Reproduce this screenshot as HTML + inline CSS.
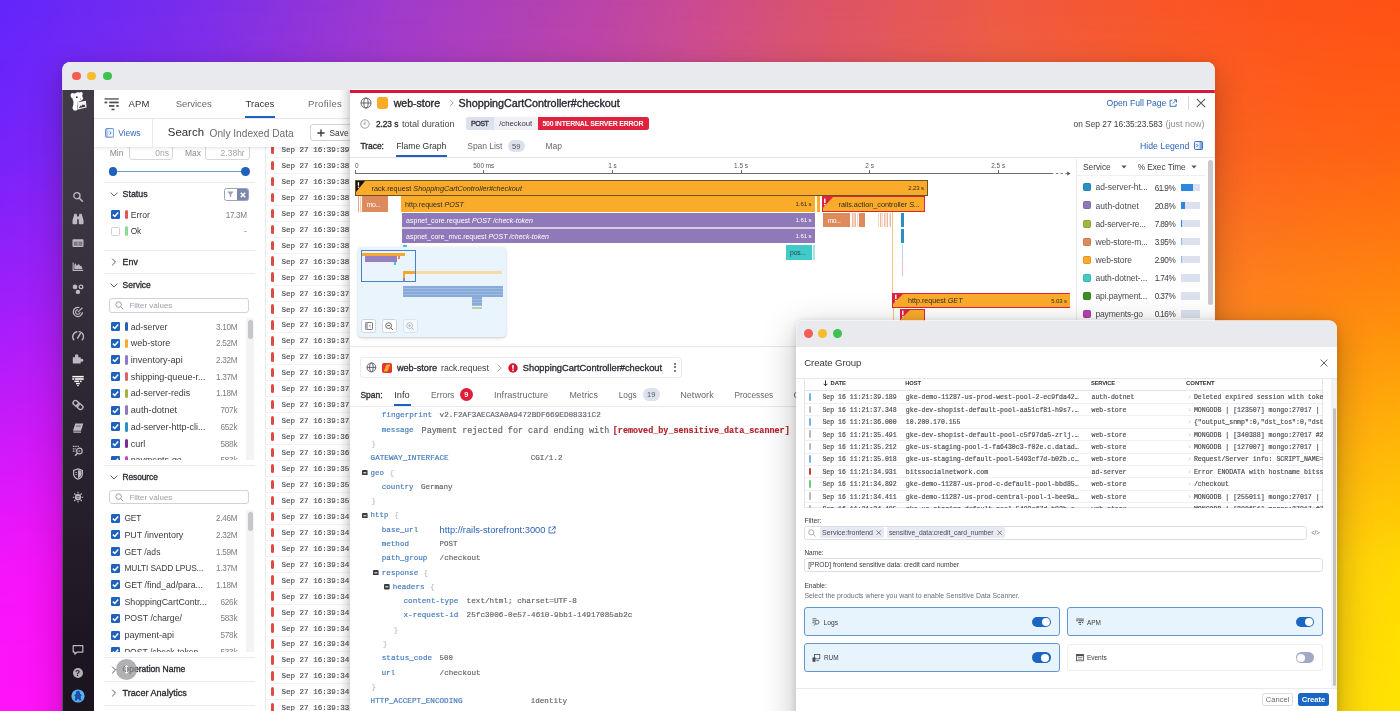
<!DOCTYPE html><html lang="en"><head><meta charset="utf-8"><title>APM Traces - Sensitive Data Scanner</title><style>

html,body{margin:0;padding:0}
body{width:1400px;height:711px;overflow:hidden;position:relative;font-family:"Liberation Sans",sans-serif;background:#c04a90}
div,svg{position:absolute}
.t{white-space:pre;overflow:visible}
.m{font-family:"Liberation Mono",monospace;-webkit-text-stroke:.16px}
.layer{left:0;top:0;width:1400px;height:711px}
#bg1{background:linear-gradient(90deg,#6126fb 0,#7a2eeb 200px,#a03bcb 400px,#bb44a8 600px,#cc4b90 700px,#d9526f 800px,#ee5a44 1000px,#f8562a 1150px,#fe5219 1300px,#ff5015 1400px)}
#bg2{background:linear-gradient(90deg,#ff14fa 0,#ff12f6 50px,#ffe300 1400px);
-webkit-mask-image:linear-gradient(180deg,rgba(0,0,0,0) 0,rgba(0,0,0,.13) 150px,rgba(0,0,0,.39) 300px,rgba(0,0,0,.71) 450px,rgba(0,0,0,.93) 565px,#000 690px);
mask-image:linear-gradient(180deg,rgba(0,0,0,0) 0,rgba(0,0,0,.13) 150px,rgba(0,0,0,.39) 300px,rgba(0,0,0,.71) 450px,rgba(0,0,0,.93) 565px,#000 690px)}
#sh1{left:62px;top:62px;width:1153px;height:700px;border-radius:8px;box-shadow:0 12px 34px rgba(0,0,0,.24),0 1px 6px rgba(0,0,0,.10)}
#w1{clip-path:inset(62px 185.2px 0 62.3px round 8px 8px 0 0)}
#sh2{left:796.2px;top:320.4px;width:540.8px;height:460px;border-radius:8px;box-shadow:0 10px 34px rgba(0,0,0,.27),0 1px 7px rgba(0,0,0,.13)}
#w2{clip-path:inset(320.4px 63px 0 796.2px round 8px 8px 0 0)}

</style></head><body>
<div id="bg1" class="layer"></div>
<div id="bg2" class="layer"></div>
<div id="sh1"></div>
<div id="w1" class="layer">
<div style="left:62px;top:62px;width:1153px;height:660px;background:#fff;"></div>
<div style="left:62px;top:62px;width:1153px;height:27.6px;background:#e9eaee;"></div>
<div style="left:71.95px;top:71.55px;width:8.9px;height:8.9px;background:#f55e53;border-radius:50%;"></div>
<div style="left:87.45px;top:71.55px;width:8.9px;height:8.9px;background:#f6bd2c;border-radius:50%;"></div>
<div style="left:103.15px;top:71.55px;width:8.9px;height:8.9px;background:#3ec152;border-radius:50%;"></div>
<div style="left:62px;top:89.6px;width:31.8px;height:630px;background:linear-gradient(180deg,#403b47 0%,#3b3642 18%,#302a36 42%,#261f2c 65%,#1d1622 88%,#1b141f 100%);"></div>
<svg style="left:69.6px;top:91.9px;" width="17.5" height="19.5" viewBox="0 0 17.5 19.5"><path d="M.6 3.2C.6 1.4 2.6 .4 4 1.6L5.4 1.2C6.5 .2 8.5 0 9.6 .6L11.6 0C12.8 .4 13 2.2 12.2 3.4L12.6 5.2L13.3 7L11.4 8.6L9 9.4L7.2 10.2L7 13.4L7.6 17.2C7.4 18.6 5 19 3.6 18.2L2.4 16L3.4 12.4V9L2.2 6.2C1 5.6 .6 4.4 .6 3.2Z" fill="#fff"/><path d="M7.1 10.3L15.9 8.8L16.6 15.4L7.8 17.5Z" fill="#f1eff4"/><path d="M8.9 16.1L10.4 13.6L11.4 14.3L12.8 12.3L13.7 13.2L14.6 12.4L15.3 14.7Z" fill="#3b3642"/><circle cx="6.8" cy="5.2" r=".85" fill="#2e2935"/><circle cx="10.6" cy="7" r=".6" fill="#6d6874"/><path d="M3.2 5.4C4 4.6 4.4 3.4 4.2 2.4" fill="none" stroke="#cfccd4" stroke-width=".6"/></svg>
<svg style="left:71.5px;top:190.5px;" width="12" height="12" viewBox="0 0 12 12"><circle cx="4.9" cy="4.7" r="3.1" fill="none" stroke="#bdb9c3" stroke-width="1.3"/><path d="M7.2 7L10.4 10.2" stroke="#bdb9c3" stroke-width="1.6" stroke-linecap="round"/></svg>
<svg style="left:71.5px;top:213.2px;" width="12" height="12" viewBox="0 0 12 12"><path d="M2.4 .8H4.6L5.2 3.4H6.8L7.4 .8H9.6L11.5 7.2V10.2C11.5 10.9 11 11.3 10.4 11.3H7.8C7.2 11.3 6.8 10.9 6.8 10.2V6.2H5.2V10.2C5.2 10.9 4.8 11.3 4.2 11.3H1.6C1 11.3 .5 10.9 .5 10.2V7.2Z" fill="#bdb9c3"/></svg>
<svg style="left:71.5px;top:236.8px;" width="12" height="12" viewBox="0 0 12 12"><rect x=".5" y="2.2" width="11" height="7.8" rx=".9" fill="#bdb9c3"/><rect x="1.7" y="4.5" width="8.6" height="4.3" fill="#7d7884"/><rect x="5.7" y="4.5" width=".7" height="4.3" fill="#bdb9c3"/></svg>
<svg style="left:71.5px;top:259.7px;" width="12" height="12" viewBox="0 0 12 12"><path d="M.6 2.6H1.7V10H11.2V11H.6Z" fill="#bdb9c3"/><path d="M2.3 9.3V5.2L3.4 3L4.6 5.8L5.6 4.9L6.9 3.9L8.3 6.3L9.2 5.6L10.6 9.3Z" fill="#bdb9c3"/></svg>
<svg style="left:71.5px;top:282.9px;" width="12" height="12" viewBox="0 0 12 12"><circle cx="3" cy="3.9" r="2.3" fill="#bdb9c3"/><circle cx="9" cy="3.9" r="1.8" fill="none" stroke="#bdb9c3" stroke-width="1.3"/><circle cx="5.9" cy="8.9" r="2.2" fill="#bdb9c3"/></svg>
<svg style="left:71.5px;top:305.9px;" width="12" height="12" viewBox="0 0 12 12"><path d="M10.5 6.3A4.6 4.6 0 1 1 7.4 1.6" fill="none" stroke="#bdb9c3" stroke-width="1.3"/><path d="M8.2 6.2A2.3 2.3 0 1 1 6 3.7" fill="none" stroke="#bdb9c3" stroke-width="1.1"/><path d="M5.9 6.1L10.4 1.7" stroke="#bdb9c3" stroke-width="1.2"/></svg>
<svg style="left:71.5px;top:329.5px;" width="12" height="12" viewBox="0 0 12 12"><path d="M1.8 9.8A5 5 0 0 1 4.8 1.8M7.2 1.6A5 5 0 0 1 10.3 9.8" fill="none" stroke="#bdb9c3" stroke-width="1.4" stroke-linecap="round"/><path d="M5.6 8.2L8.3 3.6" stroke="#bdb9c3" stroke-width="1.5" stroke-linecap="round"/></svg>
<svg style="left:71.5px;top:352.8px;" width="12" height="12" viewBox="0 0 12 12"><path d="M.8 4.2H3.2C2.5 2.5 3.5 1.3 4.7 1.3C5.9 1.3 6.9 2.5 6.2 4.2H8.7V6C10.2 5.3 11.4 6.1 11.4 7.3C11.4 8.5 10.2 9.3 8.7 8.6V10.6H.8Z" fill="#bdb9c3"/></svg>
<svg style="left:71.5px;top:375px;" width="12" height="12" viewBox="0 0 12 12"><g fill="#fff"><rect x=".3" y=".9" width="11.4" height="1.5"/><rect x=".3" y="3.2" width="2" height="1.6"/><rect x="3.1" y="3.2" width="8.6" height="1.6"/><rect x="2.4" y="5.6" width="4.6" height="1.5"/><rect x="7.8" y="5.6" width="1.8" height="1.5"/><rect x="4" y="7.9" width="3.8" height="1.4"/><rect x="5.2" y="10" width="1.4" height="1.2"/></g></svg>
<svg style="left:71.5px;top:398.7px;" width="12" height="12" viewBox="0 0 12 12"><g fill="none" stroke="#bdb9c3" stroke-width="1.4" transform="rotate(40 6 6)"><rect x=".3" y="3.7" width="6.4" height="4.6" rx="2.3"/><rect x="5.3" y="3.7" width="6.4" height="4.6" rx="2.3"/></g></svg>
<svg style="left:71.5px;top:421.7px;" width="12" height="12" viewBox="0 0 12 12"><path d="M3.3 1.5H11.3L9 8.8H1ZM1 9.5H9V10.7H1.6Z" fill="#bdb9c3"/><path d="M4.6 3.2H9L8.4 5H4Z" fill="#8a8590"/></svg>
<svg style="left:71.5px;top:444.8px;" width="12" height="12" viewBox="0 0 12 12"><path d="M.8 1.4H6.8M.8 3.8H4.2M.8 6.2H3.4" stroke="#bdb9c3" stroke-width="1.2" stroke-dasharray="1.2 .5"/><circle cx="7.4" cy="6" r="2.8" fill="none" stroke="#bdb9c3" stroke-width="1.2"/><path d="M5.4 8.2L3 10.8" stroke="#bdb9c3" stroke-width="1.4"/><path d="M6.6 4.9L8.7 6L6.6 7.1Z" fill="#bdb9c3"/></svg>
<svg style="left:71.5px;top:468.1px;" width="12" height="12" viewBox="0 0 12 12"><path d="M6 .9L10.4 2.4V6C10.4 8.5 8.5 10.3 6 11.2C3.5 10.3 1.6 8.5 1.6 6V2.4Z" fill="none" stroke="#bdb9c3" stroke-width="1.2"/><path d="M6 2V10.2C7.8 9.4 9.4 8 9.4 6V3.1Z" fill="#bdb9c3"/><path d="M3.4 4.6H5M3.4 6.6H5" stroke="#bdb9c3" stroke-width=".9"/></svg>
<svg style="left:71.5px;top:491.4px;" width="12" height="12" viewBox="0 0 12 12"><circle cx="6" cy="6.2" r="3.1" fill="#bdb9c3"/><path d="M6 .8V2.6M6 9.8V11.6M.8 6.2H2.4M9.6 6.2H11.2M2.2 2.4L3.6 3.8M9.8 2.4L8.4 3.8M2.2 10L3.6 8.6M9.8 10L8.4 8.6" stroke="#bdb9c3" stroke-width="1.1"/><path d="M4.4 5.6H7.6M4.8 7.2H7.2" stroke="#4a4450" stroke-width=".8"/></svg>
<svg style="left:71.5px;top:644px;" width="12" height="12" viewBox="0 0 12 12"><path d="M1.2 1.6H10.8V8H5.2L2.8 10.2V8H1.2Z" fill="none" stroke="#b9b5bf" stroke-width="1.25" stroke-linejoin="round"/></svg>
<svg style="left:71.5px;top:667.2px;" width="12" height="12" viewBox="0 0 12 12"><circle cx="6" cy="6" r="5" fill="#b2aeb8"/></svg>
<div class="t" style="top:666px;height:14px;line-height:14px;font-size:8.5px;color:#241d29;font-weight:700;left:-22.5px;width:200px;text-align:center;">?</div>
<svg style="left:70.5px;top:689px;" width="14" height="14" viewBox="0 0 14 14"><circle cx="7" cy="7" r="6.6" fill="#5bb0f0"/><path d="M7 1.8C8.4 1.8 9.2 3 9 4.4L10.8 6.4L9.6 7.6L10.4 11.6H8.2L7 9.6L5.8 11.6H3.6L4.4 7.6L3.2 6.4L5 4.4C4.8 3 5.6 1.8 7 1.8Z" fill="#1c4fa8"/></svg>
<div style="left:94px;top:117.8px;width:260px;height:1px;background:#ebecf0;"></div>
<svg style="left:103.5px;top:96.5px;" width="16" height="14" viewBox="0 0 16 14"><g fill="#4a4a50"><rect x=".5" y="1.3" width="14.2" height="1.3"/><rect x=".5" y="4.6" width="2.8" height="1.7"/><rect x="5.3" y="4.6" width="9.4" height="1.7"/><rect x="5" y="8.1" width="5.4" height="1.7"/><rect x="12.3" y="8.1" width="2.4" height="1.7"/><rect x="7.5" y="11.7" width="3" height="1.5"/></g></svg>
<div class="t" style="top:96px;height:15px;line-height:15px;font-size:9.5px;color:#333;letter-spacing:0.1px;left:128.6px;">APM</div>
<div class="t" style="top:96px;height:15px;line-height:15px;font-size:9.5px;color:#6a6a70;letter-spacing:-0.06px;left:175.7px;">Services</div>
<div class="t" style="top:96px;height:15px;line-height:15px;font-size:9.5px;color:#333;left:245.6px;">Traces</div>
<div class="t" style="top:96px;height:15px;line-height:15px;font-size:9.5px;color:#6a6a70;letter-spacing:0.3px;left:308px;">Profiles</div>
<div style="left:244.7px;top:115.7px;width:30.4px;height:2.2px;background:#1f62bd;"></div>
<div style="left:94px;top:118.8px;width:260px;height:28.4px;background:#fff;box-shadow:0 1px 3px rgba(0,0,0,.12);z-index:2;"></div>
<div style="left:152.4px;top:118.8px;width:1px;height:28.4px;background:#ebecf0;z-index:3;"></div>
<svg style="left:104.8px;top:127.8px;z-index:3;" width="9.4" height="9.8" viewBox="0 0 9.4 9.8"><rect x=".6" y=".6" width="8.2" height="8.6" rx="1" fill="#f0f5fc" stroke="#4a80cc" stroke-width=".9"/><rect x=".6" y=".6" width="2.6" height="8.6" fill="#3b76c9" opacity=".3"/><path d="M4.6 3.4 L6.2 4.9 L4.6 6.4" fill="none" stroke="#3b76c9" stroke-width=".9"/></svg>
<div class="t" style="top:126px;height:15px;line-height:15px;font-size:8.42px;color:#2f68bb;left:118.3px;z-index:3;">Views</div>
<div class="t" style="top:122px;height:20px;line-height:20px;font-size:11.42px;color:#2e2e33;letter-spacing:0.01px;left:167.8px;z-index:3;">Search</div>
<div class="t" style="top:125px;height:17px;line-height:17px;font-size:10.14px;color:#6a6a70;letter-spacing:0.01px;left:209.6px;z-index:3;">Only Indexed Data</div>
<div style="left:309.6px;top:123.6px;width:60px;height:17.6px;background:#fff;border:1px solid #d2d4da;border-radius:3px;box-sizing:border-box;z-index:3;"></div>
<svg style="left:316.5px;top:128.6px;z-index:3;" width="8" height="8" viewBox="0 0 8 8"><path d="M4 .4V7.6M.4 4H7.6" stroke="#3a3a40" stroke-width="1.4"/></svg>
<div class="t" style="top:126px;height:15px;line-height:15px;font-size:8.33px;color:#333;letter-spacing:0.01px;left:329.5px;z-index:3;">Save</div>
<div class="t" style="top:146px;height:14px;line-height:14px;font-size:8.62px;color:#8a8a90;letter-spacing:0.01px;left:109.7px;">Min</div>
<div style="left:128.6px;top:142px;width:44.5px;height:18.2px;background:#fff;border:1px solid #d5d7de;border-radius:3px;box-sizing:border-box;"></div>
<div class="t" style="top:146px;height:14px;line-height:14px;font-size:8.5px;color:#a4a4aa;right:1231.1px;text-align:right;">0ns</div>
<div class="t" style="top:146px;height:14px;line-height:14px;font-size:8.47px;color:#8a8a90;left:185px;">Max</div>
<div style="left:204.6px;top:142px;width:45px;height:18.2px;background:#fff;border:1px solid #d5d7de;border-radius:3px;box-sizing:border-box;"></div>
<div class="t" style="top:146px;height:14px;line-height:14px;font-size:8.5px;color:#a4a4aa;right:1155.3px;text-align:right;">2.38hr</div>
<div style="left:113px;top:171.15px;width:132.6px;height:1.3px;background:#6f97cf;"></div>
<div style="left:108.7px;top:167.4px;width:8.8px;height:8.8px;background:#1f62bd;border-radius:50%;"></div>
<div style="left:241.2px;top:167.4px;width:8.8px;height:8.8px;background:#1f62bd;border-radius:50%;"></div>
<div style="left:104.4px;top:182px;width:150.2px;height:1px;background:#e9eaee;"></div>
<svg style="left:110.2px;top:191.1px;" width="8" height="8" viewBox="0 0 8 8"><path d="M.7 1.6 L4 4.9 L7.3 1.6" fill="none" stroke="#55555c" stroke-width="1"/></svg>
<div class="t" style="top:187px;height:15px;line-height:15px;font-size:8.82px;color:#2a2a30;-webkit-text-stroke:0.32px;left:122.6px;">Status</div>
<div style="left:224.4px;top:188.3px;width:25px;height:12.4px;background:#fff;border:1px solid #9aa3be;border-radius:2.5px;box-sizing:border-box;overflow:hidden;"><div style="left:11.5px;top:-1px;width:13px;height:13px;background:#7c88a9"></div>
</div><svg style="left:227.4px;top:191.4px;" width="7" height="7" viewBox="0 0 7 7"><path d="M.4 .6H6.6L4.2 3.4V6.2L2.8 5.4V3.4Z" fill="#9a9eae"/></svg>
<svg style="left:239.5px;top:191.6px;" width="6" height="6" viewBox="0 0 6 6"><path d="M.8 .8L5.2 5.2M5.2 .8L.8 5.2" stroke="#fff" stroke-width="1.5"/></svg>
<svg style="left:111.3px;top:210.1px;" width="9" height="9" viewBox="0 0 9 9"><rect width="9" height="9" rx="1.2" fill="#1f62bd"/><path d="M1.9 4.6 L3.8 6.5 L7.2 2.6" fill="none" stroke="#fff" stroke-width="1.5"/></svg>
<div style="left:125px;top:209.9px;width:3px;height:9.4px;background:#e0584f;border-radius:1.5px;"></div>
<div class="t" style="top:208px;height:15px;line-height:15px;font-size:8.69px;color:#3a3a40;left:130.7px;">Error</div>
<div class="t" style="top:209px;height:13px;line-height:13px;font-size:8.2px;color:#7d7d84;letter-spacing:-0.32px;right:1153.2px;text-align:right;">17.3M</div>
<div style="left:111.3px;top:226.6px;width:9px;height:9px;background:#fff;border:1px solid #cfd1d8;border-radius:1.5px;box-sizing:border-box;"></div>
<div style="left:125px;top:226.4px;width:3px;height:9.4px;background:#8bdb93;border-radius:1.5px;"></div>
<div class="t" style="top:224px;height:15px;line-height:15px;font-size:8.35px;color:#3a3a40;letter-spacing:-0.27px;left:130.7px;">Ok</div>
<div class="t" style="top:225px;height:13px;line-height:13px;font-size:8.2px;color:#7d7d84;right:1153.2px;text-align:right;">-</div>
<div style="left:104.4px;top:249.7px;width:150.2px;height:1px;background:#e9eaee;"></div>
<svg style="left:110.2px;top:257.9px;" width="8" height="8" viewBox="0 0 8 8"><path d="M2.2 .7 L5.5 4 L2.2 7.3" fill="none" stroke="#55555c" stroke-width="1"/></svg>
<div class="t" style="top:255px;height:15px;line-height:15px;font-size:8.82px;color:#2a2a30;-webkit-text-stroke:0.32px;letter-spacing:0.01px;left:122.6px;">Env</div>
<div style="left:104.4px;top:273.1px;width:150.2px;height:1px;background:#e9eaee;"></div>
<svg style="left:110.2px;top:282.3px;" width="8" height="8" viewBox="0 0 8 8"><path d="M.7 1.6 L4 4.9 L7.3 1.6" fill="none" stroke="#55555c" stroke-width="1"/></svg>
<div class="t" style="top:278px;height:15px;line-height:15px;font-size:8.46px;color:#2a2a30;-webkit-text-stroke:0.32px;left:122.6px;">Service</div>
<div style="left:109.3px;top:297.8px;width:140.2px;height:14.8px;background:#fff;border:1px solid #d0d2d9;border-radius:3px;box-sizing:border-box;"></div>
<svg style="left:115.2px;top:301.2px;" width="9" height="9" viewBox="0 0 9 9"><circle cx="3.6" cy="3.6" r="2.8" fill="none" stroke="#9a9aa2" stroke-width="1"/><path d="M5.7 5.7 L8.2 8.2" stroke="#9a9aa2" stroke-width="1"/></svg>
<div class="t" style="top:299px;height:14px;line-height:14px;font-size:7.98px;color:#a0a0a8;left:129.4px;">Filter values</div>
<div style="left:0;top:0;width:1400px;height:459.6px;overflow:hidden"><svg style="left:111.3px;top:322px;" width="9" height="9" viewBox="0 0 9 9"><rect width="9" height="9" rx="1.2" fill="#1f62bd"/><path d="M1.9 4.6 L3.8 6.5 L7.2 2.6" fill="none" stroke="#fff" stroke-width="1.5"/></svg>
<div style="left:125px;top:321.8px;width:3px;height:9.4px;background:#2b5fb3;border-radius:1.5px;"></div>
<div class="t" style="top:320px;height:15px;line-height:15px;font-size:8.69px;color:#3a3a40;letter-spacing:0.01px;left:130.7px;">ad-server</div>
<div class="t" style="top:321px;height:13px;line-height:13px;font-size:8.2px;color:#7d7d84;letter-spacing:-0.32px;right:1162.8px;text-align:right;">3.10M</div>
<svg style="left:111.3px;top:338.72px;" width="9" height="9" viewBox="0 0 9 9"><rect width="9" height="9" rx="1.2" fill="#1f62bd"/><path d="M1.9 4.6 L3.8 6.5 L7.2 2.6" fill="none" stroke="#fff" stroke-width="1.5"/></svg>
<div style="left:125px;top:338.52px;width:3px;height:9.4px;background:#fbab2a;border-radius:1.5px;"></div>
<div class="t" style="top:336px;height:15px;line-height:15px;font-size:9px;color:#3a3a40;left:130.7px;">web-store</div>
<div class="t" style="top:337px;height:13px;line-height:13px;font-size:8.2px;color:#7d7d84;letter-spacing:-0.32px;right:1162.8px;text-align:right;">2.52M</div>
<svg style="left:111.3px;top:355.44px;" width="9" height="9" viewBox="0 0 9 9"><rect width="9" height="9" rx="1.2" fill="#1f62bd"/><path d="M1.9 4.6 L3.8 6.5 L7.2 2.6" fill="none" stroke="#fff" stroke-width="1.5"/></svg>
<div style="left:125px;top:355.24px;width:3px;height:9.4px;background:#9079c8;border-radius:1.5px;"></div>
<div class="t" style="top:353px;height:15px;line-height:15px;font-size:9.09px;color:#3a3a40;left:130.7px;">inventory-api</div>
<div class="t" style="top:354px;height:13px;line-height:13px;font-size:8.2px;color:#7d7d84;letter-spacing:-0.32px;right:1162.8px;text-align:right;">2.32M</div>
<svg style="left:111.3px;top:372.16px;" width="9" height="9" viewBox="0 0 9 9"><rect width="9" height="9" rx="1.2" fill="#1f62bd"/><path d="M1.9 4.6 L3.8 6.5 L7.2 2.6" fill="none" stroke="#fff" stroke-width="1.5"/></svg>
<div style="left:125px;top:371.96px;width:3px;height:9.4px;background:#d9636b;border-radius:1.5px;"></div>
<div class="t" style="top:370px;height:15px;line-height:15px;font-size:9.04px;color:#3a3a40;left:130.7px;">shipping-queue-r...</div>
<div class="t" style="top:371px;height:13px;line-height:13px;font-size:8.2px;color:#7d7d84;letter-spacing:-0.32px;right:1162.8px;text-align:right;">1.37M</div>
<svg style="left:111.3px;top:388.88px;" width="9" height="9" viewBox="0 0 9 9"><rect width="9" height="9" rx="1.2" fill="#1f62bd"/><path d="M1.9 4.6 L3.8 6.5 L7.2 2.6" fill="none" stroke="#fff" stroke-width="1.5"/></svg>
<div style="left:125px;top:388.68px;width:3px;height:9.4px;background:#a3b53c;border-radius:1.5px;"></div>
<div class="t" style="top:386px;height:15px;line-height:15px;font-size:8.85px;color:#3a3a40;left:130.7px;">ad-server-redis</div>
<div class="t" style="top:387px;height:13px;line-height:13px;font-size:8.2px;color:#7d7d84;letter-spacing:-0.32px;right:1162.8px;text-align:right;">1.18M</div>
<svg style="left:111.3px;top:405.6px;" width="9" height="9" viewBox="0 0 9 9"><rect width="9" height="9" rx="1.2" fill="#1f62bd"/><path d="M1.9 4.6 L3.8 6.5 L7.2 2.6" fill="none" stroke="#fff" stroke-width="1.5"/></svg>
<div style="left:125px;top:405.4px;width:3px;height:9.4px;background:#9079b8;border-radius:1.5px;"></div>
<div class="t" style="top:403px;height:15px;line-height:15px;font-size:9.2px;color:#3a3a40;left:130.7px;">auth-dotnet</div>
<div class="t" style="top:404px;height:13px;line-height:13px;font-size:8.2px;color:#7d7d84;letter-spacing:-0.29px;right:1162.8px;text-align:right;">707k</div>
<svg style="left:111.3px;top:422.32px;" width="9" height="9" viewBox="0 0 9 9"><rect width="9" height="9" rx="1.2" fill="#1f62bd"/><path d="M1.9 4.6 L3.8 6.5 L7.2 2.6" fill="none" stroke="#fff" stroke-width="1.5"/></svg>
<div style="left:125px;top:422.12px;width:3px;height:9.4px;background:#2a8fc5;border-radius:1.5px;"></div>
<div class="t" style="top:420px;height:15px;line-height:15px;font-size:8.98px;color:#3a3a40;left:130.7px;">ad-server-http-cli...</div>
<div class="t" style="top:421px;height:13px;line-height:13px;font-size:8.2px;color:#7d7d84;letter-spacing:-0.29px;right:1162.8px;text-align:right;">652k</div>
<svg style="left:111.3px;top:439.04px;" width="9" height="9" viewBox="0 0 9 9"><rect width="9" height="9" rx="1.2" fill="#1f62bd"/><path d="M1.9 4.6 L3.8 6.5 L7.2 2.6" fill="none" stroke="#fff" stroke-width="1.5"/></svg>
<div style="left:125px;top:438.84px;width:3px;height:9.4px;background:#7b2a9c;border-radius:1.5px;"></div>
<div class="t" style="top:437px;height:15px;line-height:15px;font-size:9px;color:#3a3a40;letter-spacing:-0.01px;left:130.7px;">curl</div>
<div class="t" style="top:438px;height:13px;line-height:13px;font-size:8.2px;color:#7d7d84;letter-spacing:-0.29px;right:1162.8px;text-align:right;">588k</div>
<svg style="left:111.3px;top:455.76px;" width="9" height="9" viewBox="0 0 9 9"><rect width="9" height="9" rx="1.2" fill="#1f62bd"/><path d="M1.9 4.6 L3.8 6.5 L7.2 2.6" fill="none" stroke="#fff" stroke-width="1.5"/></svg>
<div style="left:125px;top:455.56px;width:3px;height:9.4px;background:#c445c0;border-radius:1.5px;"></div>
<div class="t" style="top:453px;height:15px;line-height:15px;font-size:8.83px;color:#3a3a40;left:130.7px;">payments-go</div>
<div class="t" style="top:454px;height:13px;line-height:13px;font-size:8.2px;color:#7d7d84;letter-spacing:-0.29px;right:1162.8px;text-align:right;">583k</div>
</div><div style="left:245.8px;top:318px;width:8.4px;height:141.6px;background:#f4f4f6;"></div>
<div style="left:247.6px;top:320px;width:5.2px;height:19.4px;background:#c6c6ca;border-radius:2.6px;"></div>
<div style="left:104.4px;top:464.7px;width:150.2px;height:1px;background:#e9eaee;"></div>
<svg style="left:110.2px;top:474px;" width="8" height="8" viewBox="0 0 8 8"><path d="M.7 1.6 L4 4.9 L7.3 1.6" fill="none" stroke="#55555c" stroke-width="1"/></svg>
<div class="t" style="top:470px;height:15px;line-height:15px;font-size:8.35px;color:#2a2a30;-webkit-text-stroke:0.32px;letter-spacing:-0.07px;left:122.6px;">Resource</div>
<div style="left:109.3px;top:489.5px;width:140.2px;height:14.8px;background:#fff;border:1px solid #d0d2d9;border-radius:3px;box-sizing:border-box;"></div>
<svg style="left:115.2px;top:492.9px;" width="9" height="9" viewBox="0 0 9 9"><circle cx="3.6" cy="3.6" r="2.8" fill="none" stroke="#9a9aa2" stroke-width="1"/><path d="M5.7 5.7 L8.2 8.2" stroke="#9a9aa2" stroke-width="1"/></svg>
<div class="t" style="top:491px;height:14px;line-height:14px;font-size:7.98px;color:#a0a0a8;left:129.4px;">Filter values</div>
<div style="left:0;top:0;width:1400px;height:651.8px;overflow:hidden"><svg style="left:111.3px;top:513.5px;" width="9" height="9" viewBox="0 0 9 9"><rect width="9" height="9" rx="1.2" fill="#1f62bd"/><path d="M1.9 4.6 L3.8 6.5 L7.2 2.6" fill="none" stroke="#fff" stroke-width="1.5"/></svg>
<div class="t" style="top:511px;height:15px;line-height:15px;font-size:8.35px;color:#3a3a40;letter-spacing:-0.08px;left:124.4px;">GET</div>
<div class="t" style="top:512px;height:13px;line-height:13px;font-size:8.2px;color:#7d7d84;letter-spacing:-0.32px;right:1162.8px;text-align:right;">2.46M</div>
<svg style="left:111.3px;top:530.22px;" width="9" height="9" viewBox="0 0 9 9"><rect width="9" height="9" rx="1.2" fill="#1f62bd"/><path d="M1.9 4.6 L3.8 6.5 L7.2 2.6" fill="none" stroke="#fff" stroke-width="1.5"/></svg>
<div class="t" style="top:528px;height:15px;line-height:15px;font-size:8.95px;color:#3a3a40;left:124.4px;">PUT /inventory</div>
<div class="t" style="top:529px;height:13px;line-height:13px;font-size:8.2px;color:#7d7d84;letter-spacing:-0.32px;right:1162.8px;text-align:right;">2.32M</div>
<svg style="left:111.3px;top:546.94px;" width="9" height="9" viewBox="0 0 9 9"><rect width="9" height="9" rx="1.2" fill="#1f62bd"/><path d="M1.9 4.6 L3.8 6.5 L7.2 2.6" fill="none" stroke="#fff" stroke-width="1.5"/></svg>
<div class="t" style="top:545px;height:15px;line-height:15px;font-size:8.56px;color:#3a3a40;letter-spacing:0.01px;left:124.4px;">GET /ads</div>
<div class="t" style="top:546px;height:13px;line-height:13px;font-size:8.2px;color:#7d7d84;letter-spacing:-0.32px;right:1162.8px;text-align:right;">1.59M</div>
<svg style="left:111.3px;top:563.66px;" width="9" height="9" viewBox="0 0 9 9"><rect width="9" height="9" rx="1.2" fill="#1f62bd"/><path d="M1.9 4.6 L3.8 6.5 L7.2 2.6" fill="none" stroke="#fff" stroke-width="1.5"/></svg>
<div class="t" style="top:561px;height:15px;line-height:15px;font-size:8.35px;color:#3a3a40;letter-spacing:-0.12px;left:124.4px;">MULTI SADD LPUS...</div>
<div class="t" style="top:562px;height:13px;line-height:13px;font-size:8.2px;color:#7d7d84;letter-spacing:-0.32px;right:1162.8px;text-align:right;">1.37M</div>
<svg style="left:111.3px;top:580.38px;" width="9" height="9" viewBox="0 0 9 9"><rect width="9" height="9" rx="1.2" fill="#1f62bd"/><path d="M1.9 4.6 L3.8 6.5 L7.2 2.6" fill="none" stroke="#fff" stroke-width="1.5"/></svg>
<div class="t" style="top:578px;height:15px;line-height:15px;font-size:8.74px;color:#3a3a40;left:124.4px;">GET /find_ad/para...</div>
<div class="t" style="top:579px;height:13px;line-height:13px;font-size:8.2px;color:#7d7d84;letter-spacing:-0.32px;right:1162.8px;text-align:right;">1.18M</div>
<svg style="left:111.3px;top:597.1px;" width="9" height="9" viewBox="0 0 9 9"><rect width="9" height="9" rx="1.2" fill="#1f62bd"/><path d="M1.9 4.6 L3.8 6.5 L7.2 2.6" fill="none" stroke="#fff" stroke-width="1.5"/></svg>
<div class="t" style="top:595px;height:15px;line-height:15px;font-size:8.84px;color:#3a3a40;left:124.4px;">ShoppingCartContr...</div>
<div class="t" style="top:596px;height:13px;line-height:13px;font-size:8.2px;color:#7d7d84;letter-spacing:-0.29px;right:1162.8px;text-align:right;">626k</div>
<svg style="left:111.3px;top:613.82px;" width="9" height="9" viewBox="0 0 9 9"><rect width="9" height="9" rx="1.2" fill="#1f62bd"/><path d="M1.9 4.6 L3.8 6.5 L7.2 2.6" fill="none" stroke="#fff" stroke-width="1.5"/></svg>
<div class="t" style="top:611px;height:15px;line-height:15px;font-size:8.72px;color:#3a3a40;left:124.4px;">POST /charge/</div>
<div class="t" style="top:612px;height:13px;line-height:13px;font-size:8.2px;color:#7d7d84;letter-spacing:-0.29px;right:1162.8px;text-align:right;">583k</div>
<svg style="left:111.3px;top:630.54px;" width="9" height="9" viewBox="0 0 9 9"><rect width="9" height="9" rx="1.2" fill="#1f62bd"/><path d="M1.9 4.6 L3.8 6.5 L7.2 2.6" fill="none" stroke="#fff" stroke-width="1.5"/></svg>
<div class="t" style="top:628px;height:15px;line-height:15px;font-size:9px;color:#3a3a40;left:124.4px;">payment-api</div>
<div class="t" style="top:629px;height:13px;line-height:13px;font-size:8.2px;color:#7d7d84;letter-spacing:-0.29px;right:1162.8px;text-align:right;">578k</div>
<svg style="left:111.3px;top:647.26px;" width="9" height="9" viewBox="0 0 9 9"><rect width="9" height="9" rx="1.2" fill="#1f62bd"/><path d="M1.9 4.6 L3.8 6.5 L7.2 2.6" fill="none" stroke="#fff" stroke-width="1.5"/></svg>
<div class="t" style="top:645px;height:15px;line-height:15px;font-size:8.56px;color:#3a3a40;left:124.4px;">POST /check-token</div>
<div class="t" style="top:646px;height:13px;line-height:13px;font-size:8.2px;color:#7d7d84;letter-spacing:-0.29px;right:1162.8px;text-align:right;">533k</div>
</div><div style="left:245.8px;top:509.5px;width:8.4px;height:142.3px;background:#f4f4f6;"></div>
<div style="left:247.6px;top:511.5px;width:5.2px;height:19.5px;background:#c6c6ca;border-radius:2.6px;"></div>
<div style="left:104.4px;top:656.8px;width:150.2px;height:1px;background:#e9eaee;"></div>
<svg style="left:110.2px;top:665.5px;" width="8" height="8" viewBox="0 0 8 8"><path d="M2.2 .7 L5.5 4 L2.2 7.3" fill="none" stroke="#55555c" stroke-width="1"/></svg>
<div class="t" style="top:662px;height:15px;line-height:15px;font-size:8.55px;color:#2a2a30;-webkit-text-stroke:0.32px;left:122.6px;">Operation Name</div>
<div style="left:104.4px;top:680.8px;width:150.2px;height:1px;background:#e9eaee;"></div>
<svg style="left:110.2px;top:688.8px;" width="8" height="8" viewBox="0 0 8 8"><path d="M2.2 .7 L5.5 4 L2.2 7.3" fill="none" stroke="#55555c" stroke-width="1"/></svg>
<div class="t" style="top:686px;height:15px;line-height:15px;font-size:9.08px;color:#2a2a30;-webkit-text-stroke:0.32px;left:122.6px;">Tracer Analytics</div>
<div style="left:104.4px;top:704.5px;width:150.2px;height:1px;background:#e9eaee;"></div>
<div style="left:115.6px;top:659.1px;width:21.2px;height:21.2px;background:rgba(150,150,152,.74);border-radius:50%;"></div>
<svg style="left:121.7px;top:665.2px;" width="9" height="9" viewBox="0 0 9 9"><path d="M4.5 .5V8.5M2.6 2.4L4.5 .5L6.4 2.4M2.6 6.6L4.5 8.5L6.4 6.6" fill="none" stroke="#fff" stroke-width="1" opacity=".85"/></svg>
<div style="left:264.8px;top:147px;width:1px;height:570px;background:#ebebef;"></div>
<div style="left:265.8px;top:157px;width:90px;height:1px;background:#f3f3f6;"></div>
<div style="left:270.9px;top:144.8px;width:3.2px;height:9.4px;background:#dd4b42;border-radius:1.6px;"></div>
<div class="t m" style="top:143px;height:14px;line-height:14px;font-size:7.55px;color:#4c4c54;letter-spacing:-0.01px;left:281.5px;">Sep 27 16:39:39</div>
<div style="left:265.8px;top:172.95px;width:90px;height:1px;background:#f3f3f6;"></div>
<div style="left:270.9px;top:160.75px;width:3.2px;height:9.4px;background:#dd4b42;border-radius:1.6px;"></div>
<div class="t m" style="top:159px;height:14px;line-height:14px;font-size:7.55px;color:#4c4c54;letter-spacing:-0.01px;left:281.5px;">Sep 27 16:39:38</div>
<div style="left:265.8px;top:188.9px;width:90px;height:1px;background:#f3f3f6;"></div>
<div style="left:270.9px;top:176.7px;width:3.2px;height:9.4px;background:#dd4b42;border-radius:1.6px;"></div>
<div class="t m" style="top:175px;height:14px;line-height:14px;font-size:7.55px;color:#4c4c54;letter-spacing:-0.01px;left:281.5px;">Sep 27 16:39:38</div>
<div style="left:265.8px;top:204.85px;width:90px;height:1px;background:#f3f3f6;"></div>
<div style="left:270.9px;top:192.65px;width:3.2px;height:9.4px;background:#dd4b42;border-radius:1.6px;"></div>
<div class="t m" style="top:191px;height:14px;line-height:14px;font-size:7.55px;color:#4c4c54;letter-spacing:-0.01px;left:281.5px;">Sep 27 16:39:38</div>
<div style="left:265.8px;top:220.8px;width:90px;height:1px;background:#f3f3f6;"></div>
<div style="left:270.9px;top:208.6px;width:3.2px;height:9.4px;background:#dd4b42;border-radius:1.6px;"></div>
<div class="t m" style="top:207px;height:14px;line-height:14px;font-size:7.55px;color:#4c4c54;letter-spacing:-0.01px;left:281.5px;">Sep 27 16:39:38</div>
<div style="left:265.8px;top:236.75px;width:90px;height:1px;background:#f3f3f6;"></div>
<div style="left:270.9px;top:224.55px;width:3.2px;height:9.4px;background:#dd4b42;border-radius:1.6px;"></div>
<div class="t m" style="top:223px;height:14px;line-height:14px;font-size:7.55px;color:#4c4c54;letter-spacing:-0.01px;left:281.5px;">Sep 27 16:39:38</div>
<div style="left:265.8px;top:252.7px;width:90px;height:1px;background:#f3f3f6;"></div>
<div style="left:270.9px;top:240.5px;width:3.2px;height:9.4px;background:#dd4b42;border-radius:1.6px;"></div>
<div class="t m" style="top:239px;height:14px;line-height:14px;font-size:7.55px;color:#4c4c54;letter-spacing:-0.01px;left:281.5px;">Sep 27 16:39:38</div>
<div style="left:265.8px;top:268.65px;width:90px;height:1px;background:#f3f3f6;"></div>
<div style="left:270.9px;top:256.45px;width:3.2px;height:9.4px;background:#dd4b42;border-radius:1.6px;"></div>
<div class="t m" style="top:255px;height:14px;line-height:14px;font-size:7.55px;color:#4c4c54;letter-spacing:-0.01px;left:281.5px;">Sep 27 16:39:38</div>
<div style="left:265.8px;top:284.6px;width:90px;height:1px;background:#f3f3f6;"></div>
<div style="left:270.9px;top:272.4px;width:3.2px;height:9.4px;background:#dd4b42;border-radius:1.6px;"></div>
<div class="t m" style="top:271px;height:14px;line-height:14px;font-size:7.55px;color:#4c4c54;letter-spacing:-0.01px;left:281.5px;">Sep 27 16:39:38</div>
<div style="left:265.8px;top:300.55px;width:90px;height:1px;background:#f3f3f6;"></div>
<div style="left:270.9px;top:288.35px;width:3.2px;height:9.4px;background:#dd4b42;border-radius:1.6px;"></div>
<div class="t m" style="top:287px;height:14px;line-height:14px;font-size:7.55px;color:#4c4c54;letter-spacing:-0.01px;left:281.5px;">Sep 27 16:39:37</div>
<div style="left:265.8px;top:316.5px;width:90px;height:1px;background:#f3f3f6;"></div>
<div style="left:270.9px;top:304.3px;width:3.2px;height:9.4px;background:#dd4b42;border-radius:1.6px;"></div>
<div class="t m" style="top:303px;height:14px;line-height:14px;font-size:7.55px;color:#4c4c54;letter-spacing:-0.01px;left:281.5px;">Sep 27 16:39:37</div>
<div style="left:265.8px;top:332.45px;width:90px;height:1px;background:#f3f3f6;"></div>
<div style="left:270.9px;top:320.25px;width:3.2px;height:9.4px;background:#dd4b42;border-radius:1.6px;"></div>
<div class="t m" style="top:318px;height:14px;line-height:14px;font-size:7.55px;color:#4c4c54;letter-spacing:-0.01px;left:281.5px;">Sep 27 16:39:37</div>
<div style="left:265.8px;top:348.4px;width:90px;height:1px;background:#f3f3f6;"></div>
<div style="left:270.9px;top:336.2px;width:3.2px;height:9.4px;background:#dd4b42;border-radius:1.6px;"></div>
<div class="t m" style="top:334px;height:14px;line-height:14px;font-size:7.55px;color:#4c4c54;letter-spacing:-0.01px;left:281.5px;">Sep 27 16:39:37</div>
<div style="left:265.8px;top:364.35px;width:90px;height:1px;background:#f3f3f6;"></div>
<div style="left:270.9px;top:352.15px;width:3.2px;height:9.4px;background:#dd4b42;border-radius:1.6px;"></div>
<div class="t m" style="top:350px;height:14px;line-height:14px;font-size:7.55px;color:#4c4c54;letter-spacing:-0.01px;left:281.5px;">Sep 27 16:39:37</div>
<div style="left:265.8px;top:380.3px;width:90px;height:1px;background:#f3f3f6;"></div>
<div style="left:270.9px;top:368.1px;width:3.2px;height:9.4px;background:#dd4b42;border-radius:1.6px;"></div>
<div class="t m" style="top:366px;height:14px;line-height:14px;font-size:7.55px;color:#4c4c54;letter-spacing:-0.01px;left:281.5px;">Sep 27 16:39:37</div>
<div style="left:265.8px;top:396.25px;width:90px;height:1px;background:#f3f3f6;"></div>
<div style="left:270.9px;top:384.05px;width:3.2px;height:9.4px;background:#dd4b42;border-radius:1.6px;"></div>
<div class="t m" style="top:382px;height:14px;line-height:14px;font-size:7.55px;color:#4c4c54;letter-spacing:-0.01px;left:281.5px;">Sep 27 16:39:37</div>
<div style="left:265.8px;top:412.2px;width:90px;height:1px;background:#f3f3f6;"></div>
<div style="left:270.9px;top:400px;width:3.2px;height:9.4px;background:#dd4b42;border-radius:1.6px;"></div>
<div class="t m" style="top:398px;height:14px;line-height:14px;font-size:7.55px;color:#4c4c54;letter-spacing:-0.01px;left:281.5px;">Sep 27 16:39:37</div>
<div style="left:265.8px;top:428.15px;width:90px;height:1px;background:#f3f3f6;"></div>
<div style="left:270.9px;top:415.95px;width:3.2px;height:9.4px;background:#dd4b42;border-radius:1.6px;"></div>
<div class="t m" style="top:414px;height:14px;line-height:14px;font-size:7.55px;color:#4c4c54;letter-spacing:-0.01px;left:281.5px;">Sep 27 16:39:37</div>
<div style="left:265.8px;top:444.1px;width:90px;height:1px;background:#f3f3f6;"></div>
<div style="left:270.9px;top:431.9px;width:3.2px;height:9.4px;background:#dd4b42;border-radius:1.6px;"></div>
<div class="t m" style="top:430px;height:14px;line-height:14px;font-size:7.55px;color:#4c4c54;letter-spacing:-0.01px;left:281.5px;">Sep 27 16:39:36</div>
<div style="left:265.8px;top:460.05px;width:90px;height:1px;background:#f3f3f6;"></div>
<div style="left:270.9px;top:447.85px;width:3.2px;height:9.4px;background:#dd4b42;border-radius:1.6px;"></div>
<div class="t m" style="top:446px;height:14px;line-height:14px;font-size:7.55px;color:#4c4c54;letter-spacing:-0.01px;left:281.5px;">Sep 27 16:39:36</div>
<div style="left:265.8px;top:476px;width:90px;height:1px;background:#f3f3f6;"></div>
<div style="left:270.9px;top:463.8px;width:3.2px;height:9.4px;background:#dd4b42;border-radius:1.6px;"></div>
<div class="t m" style="top:462px;height:14px;line-height:14px;font-size:7.55px;color:#4c4c54;letter-spacing:-0.01px;left:281.5px;">Sep 27 16:39:35</div>
<div style="left:265.8px;top:491.95px;width:90px;height:1px;background:#f3f3f6;"></div>
<div style="left:270.9px;top:479.75px;width:3.2px;height:9.4px;background:#dd4b42;border-radius:1.6px;"></div>
<div class="t m" style="top:478px;height:14px;line-height:14px;font-size:7.55px;color:#4c4c54;letter-spacing:-0.01px;left:281.5px;">Sep 27 16:39:35</div>
<div style="left:265.8px;top:507.9px;width:90px;height:1px;background:#f3f3f6;"></div>
<div style="left:270.9px;top:495.7px;width:3.2px;height:9.4px;background:#dd4b42;border-radius:1.6px;"></div>
<div class="t m" style="top:494px;height:14px;line-height:14px;font-size:7.55px;color:#4c4c54;letter-spacing:-0.01px;left:281.5px;">Sep 27 16:39:35</div>
<div style="left:265.8px;top:523.85px;width:90px;height:1px;background:#f3f3f6;"></div>
<div style="left:270.9px;top:511.65px;width:3.2px;height:9.4px;background:#dd4b42;border-radius:1.6px;"></div>
<div class="t m" style="top:510px;height:14px;line-height:14px;font-size:7.55px;color:#4c4c54;letter-spacing:-0.01px;left:281.5px;">Sep 27 16:39:34</div>
<div style="left:265.8px;top:539.8px;width:90px;height:1px;background:#f3f3f6;"></div>
<div style="left:270.9px;top:527.6px;width:3.2px;height:9.4px;background:#dd4b42;border-radius:1.6px;"></div>
<div class="t m" style="top:526px;height:14px;line-height:14px;font-size:7.55px;color:#4c4c54;letter-spacing:-0.01px;left:281.5px;">Sep 27 16:39:34</div>
<div style="left:265.8px;top:555.75px;width:90px;height:1px;background:#f3f3f6;"></div>
<div style="left:270.9px;top:543.55px;width:3.2px;height:9.4px;background:#dd4b42;border-radius:1.6px;"></div>
<div class="t m" style="top:542px;height:14px;line-height:14px;font-size:7.55px;color:#4c4c54;letter-spacing:-0.01px;left:281.5px;">Sep 27 16:39:34</div>
<div style="left:265.8px;top:571.7px;width:90px;height:1px;background:#f3f3f6;"></div>
<div style="left:270.9px;top:559.5px;width:3.2px;height:9.4px;background:#dd4b42;border-radius:1.6px;"></div>
<div class="t m" style="top:558px;height:14px;line-height:14px;font-size:7.55px;color:#4c4c54;letter-spacing:-0.01px;left:281.5px;">Sep 27 16:39:34</div>
<div style="left:265.8px;top:587.65px;width:90px;height:1px;background:#f3f3f6;"></div>
<div style="left:270.9px;top:575.45px;width:3.2px;height:9.4px;background:#dd4b42;border-radius:1.6px;"></div>
<div class="t m" style="top:574px;height:14px;line-height:14px;font-size:7.55px;color:#4c4c54;letter-spacing:-0.01px;left:281.5px;">Sep 27 16:39:34</div>
<div style="left:265.8px;top:603.6px;width:90px;height:1px;background:#f3f3f6;"></div>
<div style="left:270.9px;top:591.4px;width:3.2px;height:9.4px;background:#dd4b42;border-radius:1.6px;"></div>
<div class="t m" style="top:590px;height:14px;line-height:14px;font-size:7.55px;color:#4c4c54;letter-spacing:-0.01px;left:281.5px;">Sep 27 16:39:34</div>
<div style="left:265.8px;top:619.55px;width:90px;height:1px;background:#f3f3f6;"></div>
<div style="left:270.9px;top:607.35px;width:3.2px;height:9.4px;background:#dd4b42;border-radius:1.6px;"></div>
<div class="t m" style="top:606px;height:14px;line-height:14px;font-size:7.55px;color:#4c4c54;letter-spacing:-0.01px;left:281.5px;">Sep 27 16:39:34</div>
<div style="left:265.8px;top:635.5px;width:90px;height:1px;background:#f3f3f6;"></div>
<div style="left:270.9px;top:623.3px;width:3.2px;height:9.4px;background:#dd4b42;border-radius:1.6px;"></div>
<div class="t m" style="top:622px;height:14px;line-height:14px;font-size:7.55px;color:#4c4c54;letter-spacing:-0.01px;left:281.5px;">Sep 27 16:39:34</div>
<div style="left:265.8px;top:651.45px;width:90px;height:1px;background:#f3f3f6;"></div>
<div style="left:270.9px;top:639.25px;width:3.2px;height:9.4px;background:#dd4b42;border-radius:1.6px;"></div>
<div class="t m" style="top:637px;height:14px;line-height:14px;font-size:7.55px;color:#4c4c54;letter-spacing:-0.01px;left:281.5px;">Sep 27 16:39:34</div>
<div style="left:265.8px;top:667.4px;width:90px;height:1px;background:#f3f3f6;"></div>
<div style="left:270.9px;top:655.2px;width:3.2px;height:9.4px;background:#dd4b42;border-radius:1.6px;"></div>
<div class="t m" style="top:653px;height:14px;line-height:14px;font-size:7.55px;color:#4c4c54;letter-spacing:-0.01px;left:281.5px;">Sep 27 16:39:34</div>
<div style="left:265.8px;top:683.35px;width:90px;height:1px;background:#f3f3f6;"></div>
<div style="left:270.9px;top:671.15px;width:3.2px;height:9.4px;background:#dd4b42;border-radius:1.6px;"></div>
<div class="t m" style="top:669px;height:14px;line-height:14px;font-size:7.55px;color:#4c4c54;letter-spacing:-0.01px;left:281.5px;">Sep 27 16:39:34</div>
<div style="left:265.8px;top:699.3px;width:90px;height:1px;background:#f3f3f6;"></div>
<div style="left:270.9px;top:687.1px;width:3.2px;height:9.4px;background:#dd4b42;border-radius:1.6px;"></div>
<div class="t m" style="top:685px;height:14px;line-height:14px;font-size:7.55px;color:#4c4c54;letter-spacing:-0.01px;left:281.5px;">Sep 27 16:39:34</div>
<div style="left:265.8px;top:715.25px;width:90px;height:1px;background:#f3f3f6;"></div>
<div style="left:270.9px;top:703.05px;width:3.2px;height:9.4px;background:#dd4b42;border-radius:1.6px;"></div>
<div class="t m" style="top:701px;height:14px;line-height:14px;font-size:7.55px;color:#4c4c54;letter-spacing:-0.01px;left:281.5px;">Sep 27 16:39:33</div>
<div class="layer" style="z-index:5">
<div style="left:338px;top:89.6px;width:12px;height:640px;background:linear-gradient(270deg,rgba(0,0,0,.17) 0,rgba(0,0,0,.08) 35%,rgba(0,0,0,.02) 75%,rgba(0,0,0,0) 100%);"></div>
<div style="left:350px;top:89.4px;width:870px;height:640px;background:#fff;"></div>
<div style="left:350px;top:89.6px;width:870px;height:3.2px;background:#d6173b;"></div>
<svg style="left:360px;top:96.8px;" width="12" height="12" viewBox="0 0 12 12"><g fill="none" stroke="#55555c" stroke-width=".9" transform="translate(6 6)"><circle r="5"/><ellipse rx="2.1" ry="5"/><path d="M-5 0H5"/></g></svg>
<div style="left:377.2px;top:97.4px;width:11.3px;height:11.3px;background:#fbab2a;border-radius:2.4px;"></div>
<div class="t" style="top:95px;height:17px;line-height:17px;font-size:10.55px;color:#2a2a30;-webkit-text-stroke:0.36px;left:393.7px;">web-store</div>
<svg style="left:447.5px;top:99px;" width="7" height="8" viewBox="0 0 7 8"><path d="M2 .8L5.2 4L2 7.2" fill="none" stroke="#9a9aa2" stroke-width="1"/></svg>
<div class="t" style="top:95px;height:17px;line-height:17px;font-size:10.73px;color:#2a2a30;-webkit-text-stroke:0.36px;letter-spacing:0.01px;left:458.6px;">ShoppingCartController#checkout</div>
<div class="t" style="top:96px;height:15px;line-height:15px;font-size:8.63px;color:#2a63b8;letter-spacing:-0.01px;left:1106.6px;">Open Full Page</div>
<svg style="left:1168.6px;top:98.6px;" width="8.4" height="8.4" viewBox="0 0 8 8"><path d="M3.2 1.2H1V7H6.8V4.8M4.6 .8H7.2V3.4M7.2 .8L3.6 4.4" fill="none" stroke="#2a63b8" stroke-width=".85"/></svg>
<div style="left:1188.2px;top:96px;width:1px;height:14px;background:#d9dbe2;"></div>
<svg style="left:1195.6px;top:97.9px;" width="10" height="10" viewBox="0 0 10 10"><path d="M.8 .8L9.2 9.2M9.2 .8L.8 9.2" stroke="#5a5a60" stroke-width="1.1"/></svg>
<svg style="left:360.1px;top:118.9px;" width="10" height="10" viewBox="0 0 10 10"><circle cx="5" cy="5" r="4.2" fill="none" stroke="#85858c" stroke-width=".8"/><path d="M5 2.6V5.2H3.4" fill="none" stroke="#85858c" stroke-width=".8"/></svg>
<div class="t" style="top:117px;height:15px;line-height:15px;font-size:8.35px;color:#2a2a30;-webkit-text-stroke:0.32px;letter-spacing:-0.05px;left:375.9px;">2.23 s</div>
<div class="t" style="top:117px;height:15px;line-height:15px;font-size:9.14px;color:#4a4a50;left:401.9px;">total duration</div>
<div style="left:465.7px;top:117.4px;width:72px;height:12.3px;background:#eef0f6;border-radius:2.5px;"></div>
<div style="left:465.7px;top:117.4px;width:28.3px;height:12.3px;background:#dde1ee;border-radius:2.5px 0 0 2.5px;"></div>
<div class="t" style="top:118px;height:13px;line-height:13px;font-size:7.13px;color:#2a2a30;-webkit-text-stroke:0.27px;letter-spacing:-0.55px;left:471px;">POST</div>
<div class="t" style="top:117px;height:13px;line-height:13px;font-size:7.72px;color:#3a3a40;letter-spacing:-0.01px;left:499.2px;">/checkout</div>
<div style="left:537.5px;top:117.4px;width:111px;height:12.3px;background:#e0223e;border-radius:0 2.5px 2.5px 0;"></div>
<div class="t" style="top:117px;height:13px;line-height:13px;font-size:6.96px;color:#fff;font-weight:700;letter-spacing:-0.2px;left:542.4px;">500 INTERNAL SERVER ERROR</div>
<div class="t" style="top:117px;height:15px;line-height:15px;font-size:8.36px;color:#3a3a40;left:1073.5px;">on Sep 27 16:35:23.583</div>
<div class="t" style="top:117px;height:15px;line-height:15px;font-size:9.02px;color:#8e8e96;letter-spacing:-0.01px;left:1165.6px;">(just now)</div>
<div class="t" style="top:138px;height:16px;line-height:16px;font-size:8.53px;color:#2a2a30;-webkit-text-stroke:0.32px;letter-spacing:-0.07px;left:360.5px;">Trace:</div>
<div class="t" style="top:138px;height:16px;line-height:16px;font-size:8.55px;color:#333;left:396.4px;">Flame Graph</div>
<div style="left:395.7px;top:154.8px;width:51.5px;height:2.2px;background:#1f62bd;"></div>
<div class="t" style="top:138px;height:16px;line-height:16px;font-size:8.53px;color:#6a6a70;letter-spacing:-0.06px;left:467.3px;">Span List</div>
<div style="left:507.7px;top:139.9px;width:17.2px;height:12.2px;background:#dde1ee;border-radius:6.1px;"></div>
<div class="t" style="top:140px;height:13px;line-height:13px;font-size:7.6px;color:#55555c;left:416.3px;width:200px;text-align:center;">59</div>
<div class="t" style="top:138px;height:16px;line-height:16px;font-size:8.53px;color:#6a6a70;letter-spacing:0.01px;left:545.5px;">Map</div>
<div class="t" style="top:139px;height:15px;line-height:15px;font-size:8.73px;color:#2a63b8;letter-spacing:-0.01px;left:1140px;">Hide Legend</div>
<svg style="left:1194px;top:141.4px;" width="9" height="9" viewBox="0 0 9 9"><rect x=".5" y=".5" width="8" height="8" rx="1" fill="#e4eefb" stroke="#2a63b8" stroke-width=".9"/><rect x="5.6" y=".5" width="2.9" height="8" fill="#2a63b8" opacity=".5"/><path d="M2.4 3L3.9 4.5L2.4 6" fill="none" stroke="#2a63b8" stroke-width=".9"/></svg>
<div style="left:350px;top:157.3px;width:870px;height:1px;background:#e3e5ec;"></div>
<div class="t" style="top:160px;height:11px;line-height:11px;font-size:6.4px;color:#55555c;left:256.8px;width:200px;text-align:center;">0</div>
<div class="t" style="top:160px;height:11px;line-height:11px;font-size:6.4px;color:#55555c;left:383.8px;width:200px;text-align:center;">500 ms</div>
<div style="left:483.4px;top:169.6px;width:0.9px;height:3.4px;background:#6a6a70;"></div>
<div class="t" style="top:160px;height:11px;line-height:11px;font-size:6.4px;color:#55555c;left:512.4px;width:200px;text-align:center;">1 s</div>
<div style="left:612px;top:169.6px;width:0.9px;height:3.4px;background:#6a6a70;"></div>
<div class="t" style="top:160px;height:11px;line-height:11px;font-size:6.4px;color:#55555c;left:641px;width:200px;text-align:center;">1.5 s</div>
<div style="left:740.6px;top:169.6px;width:0.9px;height:3.4px;background:#6a6a70;"></div>
<div class="t" style="top:160px;height:11px;line-height:11px;font-size:6.4px;color:#55555c;left:769.6px;width:200px;text-align:center;">2 s</div>
<div style="left:869.2px;top:169.6px;width:0.9px;height:3.4px;background:#6a6a70;"></div>
<div class="t" style="top:160px;height:11px;line-height:11px;font-size:6.4px;color:#55555c;left:898.2px;width:200px;text-align:center;">2.5 s</div>
<div style="left:997.8px;top:169.6px;width:0.9px;height:3.4px;background:#6a6a70;"></div>
<div style="left:355.3px;top:172.6px;width:696px;height:0.9px;background:#6a6a70;"></div>
<div style="left:355.3px;top:169.6px;width:0.9px;height:3.4px;background:#6a6a70;"></div>
<svg style="left:1050px;top:169.5px;" width="22" height="7" viewBox="0 0 22 7"><path d="M1 3.5H17" stroke="#6a6a70" stroke-width=".9" stroke-dasharray="2.4 2.4"/><path d="M17.2 1.4L20.6 3.5L17.2 5.6Z" fill="#55555c"/></svg>
<div style="left:355.3px;top:180.3px;width:572.3px;height:15.7px;background:#fbab2a;border:1.5px solid #6b5324;box-sizing:border-box;"></div>
<svg style="left:356.2px;top:181.4px;" width="10" height="12" viewBox="0 0 10 12"><path d="M0 0H9L0 11Z" fill="#17140f"/><rect x="1.8" y="1.2" width="1.3" height="3.6" fill="#fff"/><rect x="1.8" y="5.6" width="1.3" height="1.3" fill="#fff"/></svg>
<div class="t" style="top:182px;height:13px;line-height:13px;font-size:7.24px;color:#2e2a22;left:371.5px;">rack.request <i>ShoppingCartController#checkout</i></div>
<div class="t" style="top:182px;height:12px;line-height:12px;font-size:6px;color:#2e2a22;letter-spacing:-0.09px;right:476px;text-align:right;">2.23 s</div>
<div style="left:357.9px;top:196.4px;width:1.5px;height:15.2px;background:#e9a684;"></div>
<div style="left:359.9px;top:196.4px;width:1.4px;height:15.2px;background:#f3c8b1;"></div>
<div style="left:362.1px;top:196.4px;width:25.8px;height:15.2px;background:#de8a5c;"></div>
<div class="t" style="top:198px;height:13px;line-height:13px;font-size:6.87px;color:#fff;letter-spacing:-0.41px;left:366.8px;">mo...</div>
<div style="left:401px;top:196.4px;width:414px;height:15.2px;background:#fbab2a;"></div>
<div class="t" style="top:199px;height:13px;line-height:13px;font-size:7.12px;color:#2e2a22;left:405px;">http.request <i>POST</i></div>
<div class="t" style="top:198px;height:12px;line-height:12px;font-size:6px;color:#2e2a22;letter-spacing:-0.09px;right:588.6px;text-align:right;">1.61 s</div>
<div style="left:817.2px;top:196.4px;width:2.6px;height:15.2px;background:#fbab2a;"></div>
<div style="left:822px;top:196.4px;width:103px;height:15.2px;background:#fbab2a;border:1.1px solid #e0223e;box-sizing:border-box;"></div>
<svg style="left:822.3px;top:197.3px;" width="11" height="14.6" viewBox="0 0 11 14.6"><path d="M0 0H11L0 12Z" fill="#e0223e"/><rect x="2.1" y="1.6" width="1.4" height="4.4" fill="#fff"/><rect x="2.1" y="6.9" width="1.4" height="1.4" fill="#fff"/></svg>
<div class="t" style="top:198px;height:13px;line-height:13px;font-size:7.27px;color:#2e2a22;left:838.5px;">rails.action_controller <i>S...</i></div>
<div style="left:402.1px;top:212.7px;width:412.9px;height:14.8px;background:#9079b8;"></div>
<div class="t" style="top:214px;height:13px;line-height:13px;font-size:7.03px;color:#fff;left:406.1px;">aspnet_core.request <i>POST /check-token</i></div>
<div class="t" style="top:214px;height:12px;line-height:12px;font-size:6px;color:#fff;letter-spacing:-0.09px;right:588.6px;text-align:right;">1.61 s</div>
<div style="left:822.8px;top:212.7px;width:27.1px;height:14.8px;background:#de8a5c;"></div>
<div class="t" style="top:214px;height:13px;line-height:13px;font-size:6.87px;color:#fff;letter-spacing:-0.41px;left:827.4px;">mo...</div>
<div style="left:851.6px;top:212.7px;width:0.8px;height:14.8px;background:#eeb89c;"></div>
<div style="left:853.2px;top:212.7px;width:1.4px;height:14.8px;background:#f5d5c5;"></div>
<div style="left:855.4px;top:212.7px;width:0.8px;height:14.8px;background:#eeb89c;"></div>
<div style="left:857px;top:212.7px;width:0.8px;height:14.8px;background:#f5d5c5;"></div>
<div style="left:858.7px;top:212.7px;width:6.3px;height:14.8px;background:#de8a5c;"></div>
<div style="left:877.7px;top:212.7px;width:0.8px;height:14.8px;background:#f5d5c5;"></div>
<div style="left:879.6px;top:212.7px;width:0.8px;height:14.8px;background:#eeb89c;"></div>
<div style="left:881.4px;top:212.7px;width:1.6px;height:14.8px;background:#f8e3d8;"></div>
<div style="left:883.6px;top:212.7px;width:0.8px;height:14.8px;background:#eeb89c;"></div>
<div style="left:885.2px;top:212.7px;width:1.4px;height:14.8px;background:#f8e3d8;"></div>
<div style="left:887.2px;top:212.7px;width:0.8px;height:14.8px;background:#eeb89c;"></div>
<div style="left:888.8px;top:212.7px;width:1.2px;height:14.8px;background:#f8e3d8;"></div>
<div style="left:890.4px;top:212.7px;width:0.6px;height:14.8px;background:#eeb89c;"></div>
<div style="left:900.5px;top:212.7px;width:3.9px;height:14.8px;background:#2a8fc5;"></div>
<div style="left:402.1px;top:227.4px;width:412.9px;height:1.6px;background:#d6cde8;"></div>
<div style="left:402.1px;top:228.9px;width:412.9px;height:14.4px;background:#9079b8;"></div>
<div class="t" style="top:230px;height:13px;line-height:13px;font-size:6.99px;color:#fff;left:406.1px;">aspnet_core_mvc.request <i>POST /check-token</i></div>
<div class="t" style="top:230px;height:12px;line-height:12px;font-size:6px;color:#fff;letter-spacing:-0.09px;right:588.6px;text-align:right;">1.61 s</div>
<div style="left:900.5px;top:228.9px;width:3.9px;height:14.4px;background:#2a8fc5;"></div>
<div style="left:402.6px;top:244.8px;width:4.1px;height:14.8px;background:#41cbc8;"></div>
<div style="left:785.8px;top:244.8px;width:26.1px;height:14.8px;background:#41cbc8;"></div>
<div style="left:812.7px;top:244.8px;width:2.3px;height:14.8px;background:#a5e6e4;"></div>
<div class="t" style="top:246px;height:13px;line-height:13px;font-size:6.87px;color:#1e4a48;letter-spacing:-0.16px;left:790px;">pos...</div>
<div style="left:901.9px;top:243.6px;width:1.2px;height:17.8px;background:#b9d3f1;"></div>
<div style="left:901.9px;top:261.4px;width:1.2px;height:14.8px;background:#f3bdd0;"></div>
<div style="left:891.8px;top:212px;width:0.9px;height:81px;background:#f8c47c;"></div>
<div style="left:892.2px;top:293px;width:177.8px;height:14.7px;background:#fbab2a;border:1.1px solid #e0223e;border-right:none;box-sizing:border-box;"></div>
<svg style="left:892.5px;top:293.3px;" width="11" height="14.6" viewBox="0 0 11 14.6"><path d="M0 0H11L0 11Z" fill="#e0223e"/><rect x="2.1" y="1.6" width="1.4" height="4.4" fill="#fff"/><rect x="2.1" y="6.9" width="1.4" height="1.4" fill="#fff"/></svg>
<div class="t" style="top:295px;height:13px;line-height:13px;font-size:7.16px;color:#2e2a22;left:908px;">http.request <i>GET</i></div>
<div class="t" style="top:295px;height:12px;line-height:12px;font-size:6px;color:#2e2a22;letter-spacing:-0.09px;right:333px;text-align:right;">5.03 s</div>
<div style="left:892.6px;top:307.7px;width:0.9px;height:14px;background:#f8c47c;"></div>
<div style="left:900px;top:309px;width:25px;height:14.6px;background:#fbab2a;border:1.1px solid #e0223e;box-sizing:border-box;"></div>
<svg style="left:900.3px;top:309.3px;" width="11" height="14.6" viewBox="0 0 11 14.6"><path d="M0 0H11L0 11Z" fill="#e0223e"/><rect x="2.1" y="1.6" width="1.4" height="4.4" fill="#fff"/><rect x="2.1" y="6.9" width="1.4" height="1.4" fill="#fff"/></svg>
<div style="left:357.7px;top:246.7px;width:148.2px;height:90.5px;background:#eaf4fc;border-radius:4px;box-shadow:0 1px 3px rgba(0,0,0,.22);"></div>
<div style="left:362px;top:253.3px;width:43px;height:3px;background:#f5a72e;"></div>
<div style="left:364.8px;top:256.3px;width:32px;height:5.7px;background:#9580c0;"></div>
<div style="left:397.6px;top:256.3px;width:2.4px;height:2.8px;background:#de8a5c;"></div>
<div style="left:394.2px;top:262px;width:1.9px;height:2.5px;background:#41cbc8;"></div>
<div style="left:403px;top:270.9px;width:13.2px;height:3.1px;background:#f5a72e;"></div>
<div style="left:416.2px;top:270.9px;width:86.3px;height:3.1px;background:#f6d9a8;"></div>
<div style="left:403px;top:274px;width:1.8px;height:4px;background:#f5a72e;"></div>
<div style="left:403px;top:278px;width:1.8px;height:3.7px;background:#9580c0;"></div>
<div style="left:403px;top:286px;width:99.5px;height:11.2px;background:#8fb0dc;background:repeating-linear-gradient(180deg,#89abda 0,#89abda 2.3px,#9ebbe3 2.3px,#9ebbe3 3.1px);"></div>
<div style="left:471.5px;top:297.2px;width:10.7px;height:9.3px;background:#8fb0dc;background:repeating-linear-gradient(180deg,#89abda 0,#89abda 2.3px,#9ebbe3 2.3px,#9ebbe3 3.1px);"></div>
<div style="left:471.5px;top:306.5px;width:10.7px;height:2.5px;background:#b7d2a2;"></div>
<div style="left:361.2px;top:250.2px;width:55px;height:31.5px;border:1px solid #4a7fcb;box-sizing:border-box;"></div>
<div style="left:361.2px;top:318.5px;width:15px;height:14.7px;background:#fff;border:1px solid #cfd3dc;border-radius:2.5px;box-sizing:border-box;opacity:1;"></div>
<div style="left:381.7px;top:318.5px;width:15px;height:14.7px;background:#fff;border:1px solid #cfd3dc;border-radius:2.5px;box-sizing:border-box;opacity:1;"></div>
<div style="left:402.5px;top:318.5px;width:15px;height:14.7px;background:#fff;border:1px solid #cfd3dc;border-radius:2.5px;box-sizing:border-box;opacity:0.5;"></div>
<svg style="left:364.7px;top:322.2px;" width="8" height="8" viewBox="0 0 8 8"><rect x=".5" y=".5" width="7" height="7" rx=".8" fill="none" stroke="#6a6a70" stroke-width=".9"/><rect x=".5" y=".5" width="2.4" height="7" fill="#b0b0b8"/><path d="M5.6 2.8L4.4 4L5.6 5.2" fill="none" stroke="#6a6a70" stroke-width=".8"/></svg>
<svg style="left:385.2px;top:322px;" width="8.6" height="8.6" viewBox="0 0 8.6 8.6"><circle cx="3.6" cy="3.6" r="2.9" fill="none" stroke="#55555c" stroke-width=".9"/><path d="M5.7 5.7L8 8M2.2 3.6H5" stroke="#55555c" stroke-width=".9"/></svg>
<svg style="left:406px;top:322px;" width="8.6" height="8.6" viewBox="0 0 8.6 8.6"><circle cx="3.6" cy="3.6" r="2.9" fill="none" stroke="#b4b4bc" stroke-width=".9"/><path d="M5.7 5.7L8 8M2.2 3.6H5M3.6 2.2V5" stroke="#b4b4bc" stroke-width=".9"/></svg>
<div style="left:1076.3px;top:158px;width:1px;height:188px;background:#eaecf1;"></div>
<div class="t" style="top:160px;height:15px;line-height:15px;font-size:8.32px;color:#3a3a40;left:1083px;">Service</div>
<svg style="left:1120.8px;top:164.8px;" width="6" height="4" viewBox="0 0 6 4"><path d="M.4 .4H5.6L3 3.6Z" fill="#55555c"/></svg>
<div class="t" style="top:160px;height:15px;line-height:15px;font-size:8.24px;color:#3a3a40;letter-spacing:-0.01px;left:1137.7px;">% Exec Time</div>
<svg style="left:1191px;top:164.8px;" width="6" height="4" viewBox="0 0 6 4"><path d="M.4 .4H5.6L3 3.6Z" fill="#55555c"/></svg>
<div style="left:1077px;top:175.2px;width:128px;height:1px;background:#eef0f4;"></div>
<div style="left:1082.6px;top:183.4px;width:8px;height:8px;background:#2a8fc5;border-radius:2px;box-shadow:inset 0 0 0 .7px rgba(0,0,0,.16);"></div>
<div class="t" style="top:180px;height:14px;line-height:14px;font-size:8.5px;color:#4a4a50;letter-spacing:-0.04px;left:1095.5px;">ad-server-ht...</div>
<div class="t" style="top:182px;height:13px;line-height:13px;font-size:8.2px;color:#3a3a40;letter-spacing:-0.55px;right:224.9px;text-align:right;">61.9%</div>
<div style="left:1180.6px;top:183.7px;width:19.6px;height:7.4px;background:#dde1ee;"></div>
<div style="left:1180.6px;top:183.7px;width:12.43px;height:7.4px;background:#2b87e0;"></div>
<div style="left:1082.6px;top:201.49px;width:8px;height:8px;background:#9079b8;border-radius:2px;box-shadow:inset 0 0 0 .7px rgba(0,0,0,.16);"></div>
<div class="t" style="top:199px;height:14px;line-height:14px;font-size:8.5px;color:#4a4a50;letter-spacing:0.04px;left:1095.5px;">auth-dotnet</div>
<div class="t" style="top:200px;height:13px;line-height:13px;font-size:8.2px;color:#3a3a40;letter-spacing:-0.55px;right:224.9px;text-align:right;">20.8%</div>
<div style="left:1180.6px;top:201.79px;width:19.6px;height:7.4px;background:#dde1ee;"></div>
<div style="left:1180.6px;top:201.79px;width:4.38px;height:7.4px;background:#2b87e0;"></div>
<div style="left:1082.6px;top:219.58px;width:8px;height:8px;background:#a3b53c;border-radius:2px;box-shadow:inset 0 0 0 .7px rgba(0,0,0,.16);"></div>
<div class="t" style="top:217px;height:14px;line-height:14px;font-size:8.5px;color:#4a4a50;letter-spacing:-0.21px;left:1095.5px;">ad-server-re...</div>
<div class="t" style="top:218px;height:13px;line-height:13px;font-size:8.2px;color:#3a3a40;letter-spacing:-0.55px;right:224.9px;text-align:right;">7.89%</div>
<div style="left:1180.6px;top:219.88px;width:19.6px;height:7.4px;background:#dde1ee;"></div>
<div style="left:1180.6px;top:219.88px;width:1.85px;height:7.4px;background:#2b87e0;"></div>
<div style="left:1082.6px;top:237.67px;width:8px;height:8px;background:#de8a5c;border-radius:2px;box-shadow:inset 0 0 0 .7px rgba(0,0,0,.16);"></div>
<div class="t" style="top:235px;height:14px;line-height:14px;font-size:8.5px;color:#4a4a50;letter-spacing:-0.15px;left:1095.5px;">web-store-m...</div>
<div class="t" style="top:236px;height:13px;line-height:13px;font-size:8.2px;color:#3a3a40;letter-spacing:-0.55px;right:224.9px;text-align:right;">3.95%</div>
<div style="left:1180.6px;top:237.97px;width:19.6px;height:7.4px;background:#dde1ee;"></div>
<div style="left:1180.6px;top:237.97px;width:1.07px;height:7.4px;background:#8bb9ec;"></div>
<div style="left:1082.6px;top:255.76px;width:8px;height:8px;background:#fbab2a;border-radius:2px;box-shadow:inset 0 0 0 .7px rgba(0,0,0,.16);"></div>
<div class="t" style="top:253px;height:14px;line-height:14px;font-size:8.5px;color:#4a4a50;letter-spacing:-0.12px;left:1095.5px;">web-store</div>
<div class="t" style="top:254px;height:13px;line-height:13px;font-size:8.2px;color:#3a3a40;letter-spacing:-0.55px;right:224.9px;text-align:right;">2.90%</div>
<div style="left:1180.6px;top:256.06px;width:19.6px;height:7.4px;background:#dde1ee;"></div>
<div style="left:1180.6px;top:256.06px;width:0.87px;height:7.4px;background:#8bb9ec;"></div>
<div style="left:1082.6px;top:273.85px;width:8px;height:8px;background:#41cbc8;border-radius:2px;box-shadow:inset 0 0 0 .7px rgba(0,0,0,.16);"></div>
<div class="t" style="top:271px;height:14px;line-height:14px;font-size:8.5px;color:#4a4a50;letter-spacing:-0.07px;left:1095.5px;">auth-dotnet-...</div>
<div class="t" style="top:272px;height:13px;line-height:13px;font-size:8.2px;color:#3a3a40;letter-spacing:-0.55px;right:224.9px;text-align:right;">1.74%</div>
<div style="left:1180.6px;top:274.15px;width:19.6px;height:7.4px;background:#dde1ee;"></div>
<div style="left:1082.6px;top:291.94px;width:8px;height:8px;background:#3f8f22;border-radius:2px;box-shadow:inset 0 0 0 .7px rgba(0,0,0,.16);"></div>
<div class="t" style="top:289px;height:14px;line-height:14px;font-size:8.5px;color:#4a4a50;letter-spacing:-0.12px;left:1095.5px;">api.payment...</div>
<div class="t" style="top:290px;height:13px;line-height:13px;font-size:8.2px;color:#3a3a40;letter-spacing:-0.55px;right:224.9px;text-align:right;">0.37%</div>
<div style="left:1180.6px;top:292.24px;width:19.6px;height:7.4px;background:#dde1ee;"></div>
<div style="left:1082.6px;top:310.03px;width:8px;height:8px;background:#b843b6;border-radius:2px;box-shadow:inset 0 0 0 .7px rgba(0,0,0,.16);"></div>
<div class="t" style="top:307px;height:14px;line-height:14px;font-size:8.5px;color:#4a4a50;letter-spacing:-0.17px;left:1095.5px;">payments-go</div>
<div class="t" style="top:308px;height:13px;line-height:13px;font-size:8.2px;color:#3a3a40;letter-spacing:-0.55px;right:224.9px;text-align:right;">0.16%</div>
<div style="left:1180.6px;top:310.33px;width:19.6px;height:7.4px;background:#dde1ee;"></div>
<div style="left:1207.6px;top:160px;width:5.1px;height:144.6px;background:#c9c9cd;border-radius:2.5px;"></div>
<div style="left:350px;top:345.6px;width:870px;height:1.4px;background:#e6e7ec;"></div>
<div style="left:360.4px;top:357.3px;width:321.4px;height:20.4px;background:#fff;border:1px solid #eaecf1;border-radius:3px;box-sizing:border-box;"></div>
<svg style="left:365.9px;top:362.1px;" width="10.8" height="10.8" viewBox="0 0 10.8 10.8"><g fill="none" stroke="#55555c" stroke-width=".9" transform="translate(5.4 5.4)"><circle r="4.4"/><ellipse rx="1.85" ry="4.4"/><path d="M-4.4 0H4.4"/></g></svg>
<svg style="left:381.8px;top:362.5px;" width="10" height="10" viewBox="0 0 10 10"><rect width="10" height="10" rx="1.8" fill="#e2382c"/><path d="M1.6 8.4L4.6 1.6H8.4L5.4 8.4Z" fill="#fbab2a"/></svg>
<div class="t" style="top:361px;height:15px;line-height:15px;font-size:9.16px;color:#2a2a30;-webkit-text-stroke:0.31px;letter-spacing:-0.01px;left:396.9px;">web-store</div>
<div class="t" style="top:361px;height:15px;line-height:15px;font-size:8.73px;color:#3a3a40;letter-spacing:-0.01px;left:441px;">rack.request</div>
<svg style="left:496.4px;top:363.6px;" width="7" height="8" viewBox="0 0 7 8"><path d="M2 .8L5.2 4L2 7.2" fill="none" stroke="#9a9aa2" stroke-width="1"/></svg>
<svg style="left:507.6px;top:362.5px;" width="10" height="10" viewBox="0 0 10 10"><circle cx="5" cy="5" r="4.7" fill="#d9142e"/><rect x="4.2" y="2" width="1.6" height="3.8" fill="#fff"/><rect x="4.2" y="6.6" width="1.6" height="1.5" fill="#fff"/></svg>
<div class="t" style="top:361px;height:15px;line-height:15px;font-size:9.31px;color:#2a2a30;-webkit-text-stroke:0.31px;letter-spacing:-0.01px;left:522.8px;">ShoppingCartController#checkout</div>
<div style="left:673.6px;top:362.6px;width:2px;height:2px;background:#55555c;border-radius:50%;"></div>
<div style="left:673.6px;top:366.1px;width:2px;height:2px;background:#55555c;border-radius:50%;"></div>
<div style="left:673.6px;top:369.6px;width:2px;height:2px;background:#55555c;border-radius:50%;"></div>
<div class="t" style="top:388px;height:15px;line-height:15px;font-size:8.46px;color:#2a2a30;-webkit-text-stroke:0.32px;left:360.4px;">Span:</div>
<div class="t" style="top:388px;height:15px;line-height:15px;font-size:9.23px;color:#333;left:394.3px;">Info</div>
<div style="left:394px;top:403.5px;width:16.7px;height:2.2px;background:#1f62bd;"></div>
<div class="t" style="top:388px;height:15px;line-height:15px;font-size:8.56px;color:#6a6a70;left:431.1px;">Errors</div>
<div style="left:459.8px;top:388.3px;width:13px;height:13px;background:#de1f3a;border-radius:50%;"></div>
<div class="t" style="top:389px;height:12px;line-height:12px;font-size:7.4px;color:#fff;font-weight:700;left:366.3px;width:200px;text-align:center;">9</div>
<div class="t" style="top:388px;height:15px;line-height:15px;font-size:9.2px;color:#6a6a70;letter-spacing:0.01px;left:493.9px;">Infrastructure</div>
<div class="t" style="top:388px;height:15px;line-height:15px;font-size:8.88px;color:#6a6a70;left:569.4px;">Metrics</div>
<div class="t" style="top:388px;height:15px;line-height:15px;font-size:8.35px;color:#6a6a70;left:618.7px;">Logs</div>
<div style="left:643px;top:388.4px;width:16.5px;height:12.8px;background:#dde1ee;border-radius:6.4px;"></div>
<div class="t" style="top:389px;height:12px;line-height:12px;font-size:7.4px;color:#55555c;left:551.2px;width:200px;text-align:center;">19</div>
<div class="t" style="top:388px;height:15px;line-height:15px;font-size:9.14px;color:#6a6a70;letter-spacing:0.01px;left:680.2px;">Network</div>
<div class="t" style="top:388px;height:15px;line-height:15px;font-size:8.35px;color:#6a6a70;letter-spacing:-0.02px;left:734.4px;">Processes</div>
<div class="t" style="top:387px;height:15px;line-height:15px;font-size:9.6px;color:#6a6a70;left:793.6px;">Code Hotspots</div>
<div style="left:350px;top:405.9px;width:870px;height:1px;background:#e8eaef;"></div>
<div class="t m" style="top:409px;height:13px;line-height:13px;font-size:7.61px;color:#4079bd;left:381.8px;">fingerprint</div>
<div class="t m" style="top:409px;height:13px;line-height:13px;font-size:7.67px;color:#62626a;letter-spacing:0.01px;left:439.6px;">v2.F2AF3AECA3A0A9472BDF669ED08331C2</div>
<div class="t m" style="top:424px;height:13px;line-height:13px;font-size:7.56px;color:#4079bd;letter-spacing:0.01px;left:381.8px;">message</div>
<div class="t m" style="top:424px;height:14px;line-height:14px;font-size:8.46px;color:#62626a;left:421.6px;">Payment rejected for card ending with</div>
<div class="t m" style="top:424px;height:14px;line-height:14px;font-size:8.43px;color:#b3222c;font-weight:700;left:612.8px;">[removed_by_sensitive_data_scanner]</div>
<div class="t m" style="top:437px;height:13px;line-height:13px;font-size:8px;color:#c2c2ca;left:371.3px;">}</div>
<div class="t m" style="top:452px;height:13px;line-height:13px;font-size:7.64px;color:#4079bd;letter-spacing:0.01px;left:370.6px;">GATEWAY_INTERFACE</div>
<div class="t m" style="top:452px;height:13px;line-height:13px;font-size:7.56px;color:#62626a;letter-spacing:0.01px;left:530.7px;">CGI/1.2</div>
<svg style="left:362px;top:469.82px;" width="5.6" height="5.6" viewBox="0 0 5.6 5.6"><rect width="5.6" height="5.6" rx="1" fill="#3a3a40"/><rect x="1.3" y="2.3" width="3" height="1" fill="#fff"/></svg>
<div class="t m" style="top:467px;height:13px;line-height:13px;font-size:7.36px;color:#4079bd;left:370.6px;">geo</div>
<div class="t m" style="top:466px;height:13px;line-height:13px;font-size:8px;color:#c2c2ca;left:389.6px;">{</div>
<div class="t m" style="top:481px;height:13px;line-height:13px;font-size:7.56px;color:#4079bd;letter-spacing:0.01px;left:381.8px;">country</div>
<div class="t m" style="top:481px;height:13px;line-height:13px;font-size:7.56px;color:#62626a;letter-spacing:0.01px;left:420.9px;">Germany</div>
<div class="t m" style="top:494px;height:13px;line-height:13px;font-size:8px;color:#c2c2ca;left:371.3px;">}</div>
<svg style="left:362px;top:512.66px;" width="5.6" height="5.6" viewBox="0 0 5.6 5.6"><rect width="5.6" height="5.6" rx="1" fill="#3a3a40"/><rect x="1.3" y="2.3" width="3" height="1" fill="#fff"/></svg>
<div class="t m" style="top:509px;height:13px;line-height:13px;font-size:7.45px;color:#4079bd;letter-spacing:0.01px;left:370.6px;">http</div>
<div class="t m" style="top:508px;height:13px;line-height:13px;font-size:8px;color:#c2c2ca;left:394.2px;">{</div>
<div class="t m" style="top:524px;height:13px;line-height:13px;font-size:7.57px;color:#4079bd;letter-spacing:0.01px;left:381.8px;">base_url</div>
<div class="t" style="top:523px;height:15px;line-height:15px;font-size:9.32px;color:#2a63b8;letter-spacing:-0.01px;left:439.6px;">http://rails-storefront:3000</div>
<svg style="left:548px;top:525.94px;" width="8" height="8" viewBox="0 0 8 8"><path d="M3.2 1.2H1V7H6.8V4.8M4.6 .8H7.2V3.4M7.2 .8L3.6 4.4" fill="none" stroke="#2a63b8" stroke-width=".85"/></svg>
<div class="t m" style="top:538px;height:13px;line-height:13px;font-size:7.53px;color:#4079bd;letter-spacing:0.01px;left:381.8px;">method</div>
<div class="t m" style="top:538px;height:13px;line-height:13px;font-size:7.45px;color:#62626a;letter-spacing:0.01px;left:439.6px;">POST</div>
<div class="t m" style="top:552px;height:13px;line-height:13px;font-size:7.6px;color:#4079bd;left:381.8px;">path_group</div>
<div class="t m" style="top:552px;height:13px;line-height:13px;font-size:7.59px;color:#62626a;letter-spacing:0.01px;left:439.6px;">/checkout</div>
<svg style="left:373px;top:569.78px;" width="5.6" height="5.6" viewBox="0 0 5.6 5.6"><rect width="5.6" height="5.6" rx="1" fill="#3a3a40"/><rect x="1.3" y="2.3" width="3" height="1" fill="#fff"/></svg>
<div class="t m" style="top:567px;height:13px;line-height:13px;font-size:7.57px;color:#4079bd;letter-spacing:0.01px;left:381.8px;">response</div>
<div class="t m" style="top:566px;height:13px;line-height:13px;font-size:8px;color:#c2c2ca;left:423.6px;">{</div>
<svg style="left:384.4px;top:584.06px;" width="5.6" height="5.6" viewBox="0 0 5.6 5.6"><rect width="5.6" height="5.6" rx="1" fill="#3a3a40"/><rect x="1.3" y="2.3" width="3" height="1" fill="#fff"/></svg>
<div class="t m" style="top:581px;height:13px;line-height:13px;font-size:7.56px;color:#4079bd;letter-spacing:0.01px;left:392.7px;">headers</div>
<div class="t m" style="top:580px;height:13px;line-height:13px;font-size:8px;color:#c2c2ca;left:430px;">{</div>
<div class="t m" style="top:595px;height:13px;line-height:13px;font-size:7.62px;color:#4079bd;left:403.5px;">content-type</div>
<div class="t m" style="top:595px;height:13px;line-height:13px;font-size:7.66px;color:#62626a;left:466.6px;">text/html; charset=UTF-8</div>
<div class="t m" style="top:609px;height:13px;line-height:13px;font-size:7.62px;color:#4079bd;left:403.5px;">x-request-id</div>
<div class="t m" style="top:609px;height:13px;line-height:13px;font-size:7.67px;color:#62626a;letter-spacing:0.01px;left:466.6px;">25fc3006-0e57-4610-9bb1-14917085ab2c</div>
<div class="t m" style="top:623px;height:13px;line-height:13px;font-size:8px;color:#c2c2ca;left:393.6px;">}</div>
<div class="t m" style="top:637px;height:13px;line-height:13px;font-size:8px;color:#c2c2ca;left:382.8px;">}</div>
<div class="t m" style="top:652px;height:13px;line-height:13px;font-size:7.61px;color:#4079bd;left:381.8px;">status_code</div>
<div class="t m" style="top:652px;height:13px;line-height:13px;font-size:7.36px;color:#62626a;left:439.6px;">500</div>
<div class="t m" style="top:667px;height:13px;line-height:13px;font-size:7.36px;color:#4079bd;left:381.8px;">url</div>
<div class="t m" style="top:667px;height:13px;line-height:13px;font-size:7.59px;color:#62626a;letter-spacing:0.01px;left:439.6px;">/checkout</div>
<div class="t m" style="top:680px;height:13px;line-height:13px;font-size:8px;color:#c2c2ca;left:371.3px;">}</div>
<div class="t m" style="top:695px;height:13px;line-height:13px;font-size:7.65px;color:#4079bd;letter-spacing:0.01px;left:370.6px;">HTTP_ACCEPT_ENCODING</div>
<div class="t m" style="top:695px;height:13px;line-height:13px;font-size:7.57px;color:#62626a;letter-spacing:0.01px;left:530.7px;">identity</div>
</div>
</div>
<div id="sh2"></div>
<div id="w2" class="layer">
<div style="left:796.2px;top:320.4px;width:540.8px;height:400px;background:#fff;"></div>
<div style="left:796.2px;top:320.4px;width:540.8px;height:26.5px;background:#e9eaee;"></div>
<div style="left:804.45px;top:328.85px;width:8.9px;height:8.9px;background:#f55e53;border-radius:50%;"></div>
<div style="left:818.45px;top:328.85px;width:8.9px;height:8.9px;background:#f6bd2c;border-radius:50%;"></div>
<div style="left:832.95px;top:328.85px;width:8.9px;height:8.9px;background:#3ec152;border-radius:50%;"></div>
<div class="t" style="top:354px;height:17px;line-height:17px;font-size:9.57px;color:#36363c;letter-spacing:-0.07px;left:804.2px;">Create Group</div>
<svg style="left:1320px;top:358.9px;" width="8" height="8" viewBox="0 0 8 8"><path d="M.6 .6L7.4 7.4M7.4 .6L.6 7.4" stroke="#55555c" stroke-width=".9"/></svg>
<div style="left:796.2px;top:378px;width:540.8px;height:1px;background:#e6e7ec;"></div>
<div style="left:1331.4px;top:379px;width:5.6px;height:309px;background:#f3f3f5;"></div>
<div style="left:1332.6px;top:407.9px;width:3.2px;height:277.7px;background:#c2c2c6;border-radius:1.6px;"></div>
<div style="left:0;top:0;width:1400px;height:507.6px;overflow:hidden"><div style="left:804px;top:379px;width:519px;height:128.6px;background:#fff;border-left:1px solid #e3e5ec;border-right:1px solid #e3e5ec;border-bottom:1px solid #e3e5ec;box-sizing:border-box;"></div>
<svg style="left:823px;top:380.2px;" width="5" height="6.4" viewBox="0 0 5 6.4"><path d="M2.5 .4V5.6M.6 3.8L2.5 5.7L4.4 3.8" fill="none" stroke="#2e2e33" stroke-width="1"/></svg>
<div class="t" style="top:378px;height:11px;line-height:11px;font-size:5.89px;color:#2e2e33;font-weight:700;letter-spacing:0.01px;left:830.4px;">DATE</div>
<div class="t" style="top:378px;height:11px;line-height:11px;font-size:5.74px;color:#2e2e33;font-weight:700;letter-spacing:-0.08px;left:905.3px;">HOST</div>
<div class="t" style="top:378px;height:11px;line-height:11px;font-size:5.74px;color:#2e2e33;font-weight:700;letter-spacing:-0.18px;left:1091px;">SERVICE</div>
<div class="t" style="top:378px;height:11px;line-height:11px;font-size:5.94px;color:#2e2e33;font-weight:700;left:1186px;">CONTENT</div>
<div style="left:805px;top:389.6px;width:517px;height:1px;background:#e3e5ec;"></div>
<div style="left:805px;top:403px;width:517px;height:1px;background:#f0f0f4;"></div>
<div style="left:808.7px;top:393.2px;width:2.5px;height:7.6px;background:#6fb3e0;border-radius:1.2px;"></div>
<div class="t m" style="top:392px;height:12px;line-height:12px;font-size:6.53px;color:#4a4a52;left:822.4px;">Sep 16 11:21:39.189</div>
<div class="t m" style="top:392px;height:12px;line-height:12px;font-size:6.56px;color:#4a4a52;left:905.8px;">gke-demo-11287-us-prod-west-pool-2-ec9fda42…</div>
<div class="t m" style="top:392px;height:12px;line-height:12px;font-size:6.5px;color:#4a4a52;letter-spacing:-0.01px;left:1091.5px;">auth-dotnet</div>
<svg style="left:1187.6px;top:395.3px;" width="3" height="3.6" viewBox="0 0 3 3.6"><path d="M.5 .4L2.4 1.8L.5 3.2" fill="none" stroke="#c8c8d0" stroke-width=".7"/></svg>
<div class="t m" style="top:392px;height:12px;line-height:12px;font-size:6.55px;color:#4a4a52;left:1193.9px;">Deleted expired session with toke</div>
<div style="left:805px;top:415.4px;width:517px;height:1px;background:#f0f0f4;"></div>
<div style="left:808.7px;top:405.6px;width:2.5px;height:7.6px;background:#b9b9bd;border-radius:1.2px;"></div>
<div class="t m" style="top:405px;height:12px;line-height:12px;font-size:6.53px;color:#4a4a52;left:822.4px;">Sep 16 11:21:37.348</div>
<div class="t m" style="top:405px;height:12px;line-height:12px;font-size:6.56px;color:#4a4a52;left:905.8px;">gke-dev-shopist-default-pool-aa51cf81-h9s7.…</div>
<div class="t m" style="top:405px;height:12px;line-height:12px;font-size:6.48px;color:#4a4a52;left:1091.5px;">web-store</div>
<svg style="left:1187.6px;top:407.7px;" width="3" height="3.6" viewBox="0 0 3 3.6"><path d="M.5 .4L2.4 1.8L.5 3.2" fill="none" stroke="#c8c8d0" stroke-width=".7"/></svg>
<div class="t m" style="top:405px;height:12px;line-height:12px;font-size:6.55px;color:#4a4a52;left:1193.9px;">MONGODB | [123507] mongo:27017 | </div>
<div style="left:805px;top:427.8px;width:517px;height:1px;background:#f0f0f4;"></div>
<div style="left:808.7px;top:418px;width:2.5px;height:7.6px;background:#6fb3e0;border-radius:1.2px;"></div>
<div class="t m" style="top:417px;height:12px;line-height:12px;font-size:6.53px;color:#4a4a52;left:822.4px;">Sep 16 11:21:36.000</div>
<div class="t m" style="top:417px;height:12px;line-height:12px;font-size:6.51px;color:#4a4a52;left:905.8px;">10.200.170.155</div>
<svg style="left:1187.6px;top:420.1px;" width="3" height="3.6" viewBox="0 0 3 3.6"><path d="M.5 .4L2.4 1.8L.5 3.2" fill="none" stroke="#c8c8d0" stroke-width=".7"/></svg>
<div class="t m" style="top:417px;height:12px;line-height:12px;font-size:6.55px;color:#4a4a52;left:1193.9px;">{"output_snmp":0,"dst_tos":0,"dst</div>
<div style="left:805px;top:440.2px;width:517px;height:1px;background:#f0f0f4;"></div>
<div style="left:808.7px;top:430.4px;width:2.5px;height:7.6px;background:#b9b9bd;border-radius:1.2px;"></div>
<div class="t m" style="top:430px;height:12px;line-height:12px;font-size:6.53px;color:#4a4a52;left:822.4px;">Sep 16 11:21:35.491</div>
<div class="t m" style="top:430px;height:12px;line-height:12px;font-size:6.56px;color:#4a4a52;left:905.8px;">gke-dev-shopist-default-pool-c5f97da5-zrlj.…</div>
<div class="t m" style="top:430px;height:12px;line-height:12px;font-size:6.48px;color:#4a4a52;left:1091.5px;">web-store</div>
<svg style="left:1187.6px;top:432.5px;" width="3" height="3.6" viewBox="0 0 3 3.6"><path d="M.5 .4L2.4 1.8L.5 3.2" fill="none" stroke="#c8c8d0" stroke-width=".7"/></svg>
<div class="t m" style="top:430px;height:12px;line-height:12px;font-size:6.55px;color:#4a4a52;left:1193.9px;">MONGODB | [340388] mongo:27017 #2</div>
<div style="left:805px;top:452.6px;width:517px;height:1px;background:#f0f0f4;"></div>
<div style="left:808.7px;top:442.8px;width:2.5px;height:7.6px;background:#b9b9bd;border-radius:1.2px;"></div>
<div class="t m" style="top:442px;height:12px;line-height:12px;font-size:6.53px;color:#4a4a52;left:822.4px;">Sep 16 11:21:35.212</div>
<div class="t m" style="top:442px;height:12px;line-height:12px;font-size:6.56px;color:#4a4a52;left:905.8px;">gke-us-staging-pool-1-fa6430c3-f02e.c.datad…</div>
<div class="t m" style="top:442px;height:12px;line-height:12px;font-size:6.48px;color:#4a4a52;left:1091.5px;">web-store</div>
<svg style="left:1187.6px;top:444.9px;" width="3" height="3.6" viewBox="0 0 3 3.6"><path d="M.5 .4L2.4 1.8L.5 3.2" fill="none" stroke="#c8c8d0" stroke-width=".7"/></svg>
<div class="t m" style="top:442px;height:12px;line-height:12px;font-size:6.55px;color:#4a4a52;left:1193.9px;">MONGODB | [127007] mongo:27017 | </div>
<div style="left:805px;top:465px;width:517px;height:1px;background:#f0f0f4;"></div>
<div style="left:808.7px;top:455.2px;width:2.5px;height:7.6px;background:#6fb3e0;border-radius:1.2px;"></div>
<div class="t m" style="top:454px;height:12px;line-height:12px;font-size:6.53px;color:#4a4a52;left:822.4px;">Sep 16 11:21:35.018</div>
<div class="t m" style="top:454px;height:12px;line-height:12px;font-size:6.56px;color:#4a4a52;left:905.8px;">gke-us-staging-default-pool-5493cf7d-b02b.c…</div>
<div class="t m" style="top:454px;height:12px;line-height:12px;font-size:6.48px;color:#4a4a52;left:1091.5px;">web-store</div>
<svg style="left:1187.6px;top:457.3px;" width="3" height="3.6" viewBox="0 0 3 3.6"><path d="M.5 .4L2.4 1.8L.5 3.2" fill="none" stroke="#c8c8d0" stroke-width=".7"/></svg>
<div class="t m" style="top:454px;height:12px;line-height:12px;font-size:6.55px;color:#4a4a52;left:1193.9px;">Request/Server info: SCRIPT_NAME=</div>
<div style="left:805px;top:477.4px;width:517px;height:1px;background:#f0f0f4;"></div>
<div style="left:808.7px;top:467.6px;width:2.5px;height:7.6px;background:#cc3a33;border-radius:1.2px;"></div>
<div class="t m" style="top:467px;height:12px;line-height:12px;font-size:6.53px;color:#4a4a52;left:822.4px;">Sep 16 11:21:34.931</div>
<div class="t m" style="top:467px;height:12px;line-height:12px;font-size:6.53px;color:#4a4a52;letter-spacing:0.01px;left:905.8px;">bitssocialnetwork.com</div>
<div class="t m" style="top:467px;height:12px;line-height:12px;font-size:6.48px;color:#4a4a52;left:1091.5px;">ad-server</div>
<svg style="left:1187.6px;top:469.7px;" width="3" height="3.6" viewBox="0 0 3 3.6"><path d="M.5 .4L2.4 1.8L.5 3.2" fill="none" stroke="#c8c8d0" stroke-width=".7"/></svg>
<div class="t m" style="top:467px;height:12px;line-height:12px;font-size:6.55px;color:#4a4a52;left:1193.9px;">Error ENODATA with hostname bitss</div>
<div style="left:805px;top:489.8px;width:517px;height:1px;background:#f0f0f4;"></div>
<div style="left:808.7px;top:480px;width:2.5px;height:7.6px;background:#6cc97e;border-radius:1.2px;"></div>
<div class="t m" style="top:479px;height:12px;line-height:12px;font-size:6.53px;color:#4a4a52;left:822.4px;">Sep 16 11:21:34.892</div>
<div class="t m" style="top:479px;height:12px;line-height:12px;font-size:6.56px;color:#4a4a52;left:905.8px;">gke-demo-11287-us-prod-c-default-pool-bbd85…</div>
<div class="t m" style="top:479px;height:12px;line-height:12px;font-size:6.48px;color:#4a4a52;left:1091.5px;">web-store</div>
<svg style="left:1187.6px;top:482.1px;" width="3" height="3.6" viewBox="0 0 3 3.6"><path d="M.5 .4L2.4 1.8L.5 3.2" fill="none" stroke="#c8c8d0" stroke-width=".7"/></svg>
<div class="t m" style="top:479px;height:12px;line-height:12px;font-size:6.48px;color:#4a4a52;left:1193.9px;">/checkout</div>
<div style="left:805px;top:502.2px;width:517px;height:1px;background:#f0f0f4;"></div>
<div style="left:808.7px;top:492.4px;width:2.5px;height:7.6px;background:#b9b9bd;border-radius:1.2px;"></div>
<div class="t m" style="top:492px;height:12px;line-height:12px;font-size:6.53px;color:#4a4a52;left:822.4px;">Sep 16 11:21:34.411</div>
<div class="t m" style="top:492px;height:12px;line-height:12px;font-size:6.56px;color:#4a4a52;left:905.8px;">gke-demo-11287-us-prod-central-pool-1-bee9a…</div>
<div class="t m" style="top:492px;height:12px;line-height:12px;font-size:6.48px;color:#4a4a52;left:1091.5px;">web-store</div>
<svg style="left:1187.6px;top:494.5px;" width="3" height="3.6" viewBox="0 0 3 3.6"><path d="M.5 .4L2.4 1.8L.5 3.2" fill="none" stroke="#c8c8d0" stroke-width=".7"/></svg>
<div class="t m" style="top:492px;height:12px;line-height:12px;font-size:6.55px;color:#4a4a52;left:1193.9px;">MONGODB | [255011] mongo:27017 | </div>
<div style="left:805px;top:514.6px;width:517px;height:1px;background:#f0f0f4;"></div>
<div style="left:808.7px;top:504.8px;width:2.5px;height:7.6px;background:#b9b9bd;border-radius:1.2px;"></div>
<div class="t m" style="top:504px;height:12px;line-height:12px;font-size:6.53px;color:#4a4a52;left:822.4px;">Sep 16 11:21:34.405</div>
<div class="t m" style="top:504px;height:12px;line-height:12px;font-size:6.56px;color:#4a4a52;left:905.8px;">gke-us-staging-default-pool-5493cf7d-b02b.c…</div>
<div class="t m" style="top:504px;height:12px;line-height:12px;font-size:6.48px;color:#4a4a52;left:1091.5px;">web-store</div>
<svg style="left:1187.6px;top:506.9px;" width="3" height="3.6" viewBox="0 0 3 3.6"><path d="M.5 .4L2.4 1.8L.5 3.2" fill="none" stroke="#c8c8d0" stroke-width=".7"/></svg>
<div class="t m" style="top:504px;height:12px;line-height:12px;font-size:6.55px;color:#4a4a52;left:1193.9px;">MONGODB | [309651] mongo:27017 #7</div>
</div><div class="t" style="top:515px;height:12px;line-height:12px;font-size:6.85px;color:#3a3a40;left:804.4px;">Filter:</div>
<div style="left:804px;top:525.5px;width:503px;height:14.1px;background:#fff;border:1px solid #dddfe6;border-radius:2.5px;box-sizing:border-box;"></div>
<svg style="left:808.2px;top:528.8px;" width="8" height="8" viewBox="0 0 8 8"><circle cx="3.3" cy="3.3" r="2.6" fill="none" stroke="#9a9aa2" stroke-width=".8"/><path d="M5.2 5.2L7.4 7.4" stroke="#9a9aa2" stroke-width=".8"/></svg>
<div style="left:819.6px;top:527.4px;width:64.7px;height:10.6px;background:#e7eaf3;border-radius:1.5px;"></div>
<div class="t" style="top:527px;height:12px;line-height:12px;font-size:7.02px;color:#4a4a52;letter-spacing:-0.01px;left:822px;">Service:frontend</div>
<svg style="left:876.4px;top:530.2px;" width="5.4" height="5.4" viewBox="0 0 5.4 5.4"><path d="M.5 .5L4.9 4.9M4.9 .5L.5 4.9" stroke="#55555c" stroke-width=".7"/></svg>
<div style="left:886.9px;top:527.4px;width:118.1px;height:10.6px;background:#e7eaf3;border-radius:1.5px;"></div>
<div class="t" style="top:527px;height:12px;line-height:12px;font-size:6.73px;color:#4a4a52;left:889px;">sensitive_data:credit_card_number</div>
<svg style="left:996.9px;top:530.2px;" width="5.4" height="5.4" viewBox="0 0 5.4 5.4"><path d="M.5 .5L4.9 4.9M4.9 .5L.5 4.9" stroke="#55555c" stroke-width=".7"/></svg>
<div class="t" style="top:527px;height:11px;line-height:11px;font-size:6.6px;color:#74747c;letter-spacing:-0.55px;left:1311.3px;">&lt;/&gt;</div>
<div class="t" style="top:547px;height:12px;line-height:12px;font-size:6.52px;color:#3a3a40;left:804.4px;">Name:</div>
<div style="left:804px;top:557.5px;width:519.4px;height:14.2px;background:#fff;border:1px solid #dddfe6;border-radius:2.5px;box-sizing:border-box;"></div>
<div class="t" style="top:559px;height:12px;line-height:12px;font-size:6.67px;color:#3a3a40;left:808.2px;">[PROD] frontend sensitive data: credit card number</div>
<div class="t" style="top:580px;height:12px;line-height:12px;font-size:6.64px;color:#3a3a40;left:804.4px;">Enable:</div>
<div class="t" style="top:590px;height:12px;line-height:12px;font-size:6.91px;color:#6e6e76;left:804.4px;">Select the products where you want to enable Sensitive Data Scanner.</div>
<div style="left:804px;top:607.4px;width:255.6px;height:28.6px;background:#e8f4fd;border:1px solid #6794d1;border-radius:3px;box-sizing:border-box;"></div>
<svg style="left:812.4px;top:618px;" width="8" height="8" viewBox="0 0 8 8"><path d="M.4 .8H4.4M.4 2.8H3M.4 4.8H2.4" stroke="#4a4a52" stroke-width=".8"/><circle cx="5" cy="4.2" r="2" fill="none" stroke="#4a4a52" stroke-width=".8"/><path d="M3.6 5.8L2 7.6" stroke="#4a4a52" stroke-width=".9"/></svg>
<div class="t" style="top:617px;height:12px;line-height:12px;font-size:6.74px;color:#3a3a40;left:823.4px;">Logs</div>
<div style="left:1032.2px;top:616.6px;width:18.8px;height:10.8px;background:#1a66c2;border-radius:5.4px;"></div>
<div style="left:1041.5px;top:618px;width:8px;height:8px;background:#fff;border-radius:50%;"></div>
<div style="left:1067.1px;top:607.4px;width:256px;height:28.4px;background:#e8f4fd;border:1px solid #6794d1;border-radius:3px;box-sizing:border-box;"></div>
<svg style="left:1075.6px;top:618.4px;" width="8" height="8" viewBox="0 0 8 8"><g fill="#4a4a52"><rect x=".2" y=".6" width="7.6" height=".9"/><rect x=".2" y="2.3" width="1.6" height="1"/><rect x="2.6" y="2.3" width="5.2" height="1"/><rect x="2.2" y="4.1" width="2.8" height="1"/><rect x="5.8" y="4.1" width="1.4" height="1"/><rect x="3.4" y="5.9" width="1.8" height=".9"/></g></svg>
<div class="t" style="top:617px;height:12px;line-height:12px;font-size:6.44px;color:#3a3a40;letter-spacing:-0.03px;left:1086.9px;">APM</div>
<div style="left:1295.6px;top:616.6px;width:18.8px;height:10.8px;background:#1a66c2;border-radius:5.4px;"></div>
<div style="left:1304.9px;top:618px;width:8px;height:8px;background:#fff;border-radius:50%;"></div>
<div style="left:804px;top:643.4px;width:255.6px;height:28.6px;background:#e8f4fd;border:1px solid #6794d1;border-radius:3px;box-sizing:border-box;"></div>
<svg style="left:812.4px;top:653.6px;" width="8.4" height="8.4" viewBox="0 0 8.4 8.4"><rect x="2.6" y=".6" width="5.2" height="4.2" fill="none" stroke="#4a4a52" stroke-width=".8"/><rect x=".5" y="3.4" width="3" height="4.4" fill="#4a4a52"/><path d="M4.4 6.6H6.8" stroke="#4a4a52" stroke-width=".8"/></svg>
<div class="t" style="top:652px;height:12px;line-height:12px;font-size:6.44px;color:#3a3a40;letter-spacing:-0.04px;left:824px;">RUM</div>
<div style="left:1031.8px;top:652.4px;width:18.8px;height:10.8px;background:#1a66c2;border-radius:5.4px;"></div>
<div style="left:1041.1px;top:653.8px;width:8px;height:8px;background:#fff;border-radius:50%;"></div>
<div style="left:1067.1px;top:643.9px;width:256px;height:27.6px;background:#fff;border:1px solid #eeeff3;border-radius:3px;box-sizing:border-box;"></div>
<svg style="left:1075.8px;top:654px;" width="8" height="7.6" viewBox="0 0 8 7.6"><rect x=".4" y=".4" width="7.2" height="6.4" fill="none" stroke="#4a4a52" stroke-width=".8"/><rect x=".4" y=".4" width="7.2" height="1.8" fill="#4a4a52"/><path d="M1.6 3.6H6.4M1.6 5.2H6.4" stroke="#4a4a52" stroke-width=".6"/></svg>
<div class="t" style="top:652px;height:12px;line-height:12px;font-size:6.51px;color:#3a3a40;left:1086.9px;">Events</div>
<div style="left:1295.6px;top:652.4px;width:18.8px;height:10.8px;background:#a3a9c3;border-radius:5.4px;"></div>
<div style="left:1297.1px;top:653.8px;width:8px;height:8px;background:#fff;border-radius:50%;"></div>
<div style="left:796.2px;top:688.2px;width:540.8px;height:1px;background:#e9eaef;"></div>
<div style="left:1262.1px;top:692.7px;width:31.1px;height:13.8px;background:#fff;border:1px solid #d9dbe2;border-radius:2.5px;box-sizing:border-box;"></div>
<div class="t" style="top:693px;height:13px;line-height:13px;font-size:7.6px;color:#6a6a72;left:1177.7px;width:200px;text-align:center;">Cancel</div>
<div style="left:1297.9px;top:692.7px;width:31.1px;height:13.8px;background:#1a66c2;border-radius:2.5px;"></div>
<div class="t" style="top:693px;height:13px;line-height:13px;font-size:7.6px;color:#fff;font-weight:700;left:1213.5px;width:200px;text-align:center;">Create</div>
</div>
</body></html>
